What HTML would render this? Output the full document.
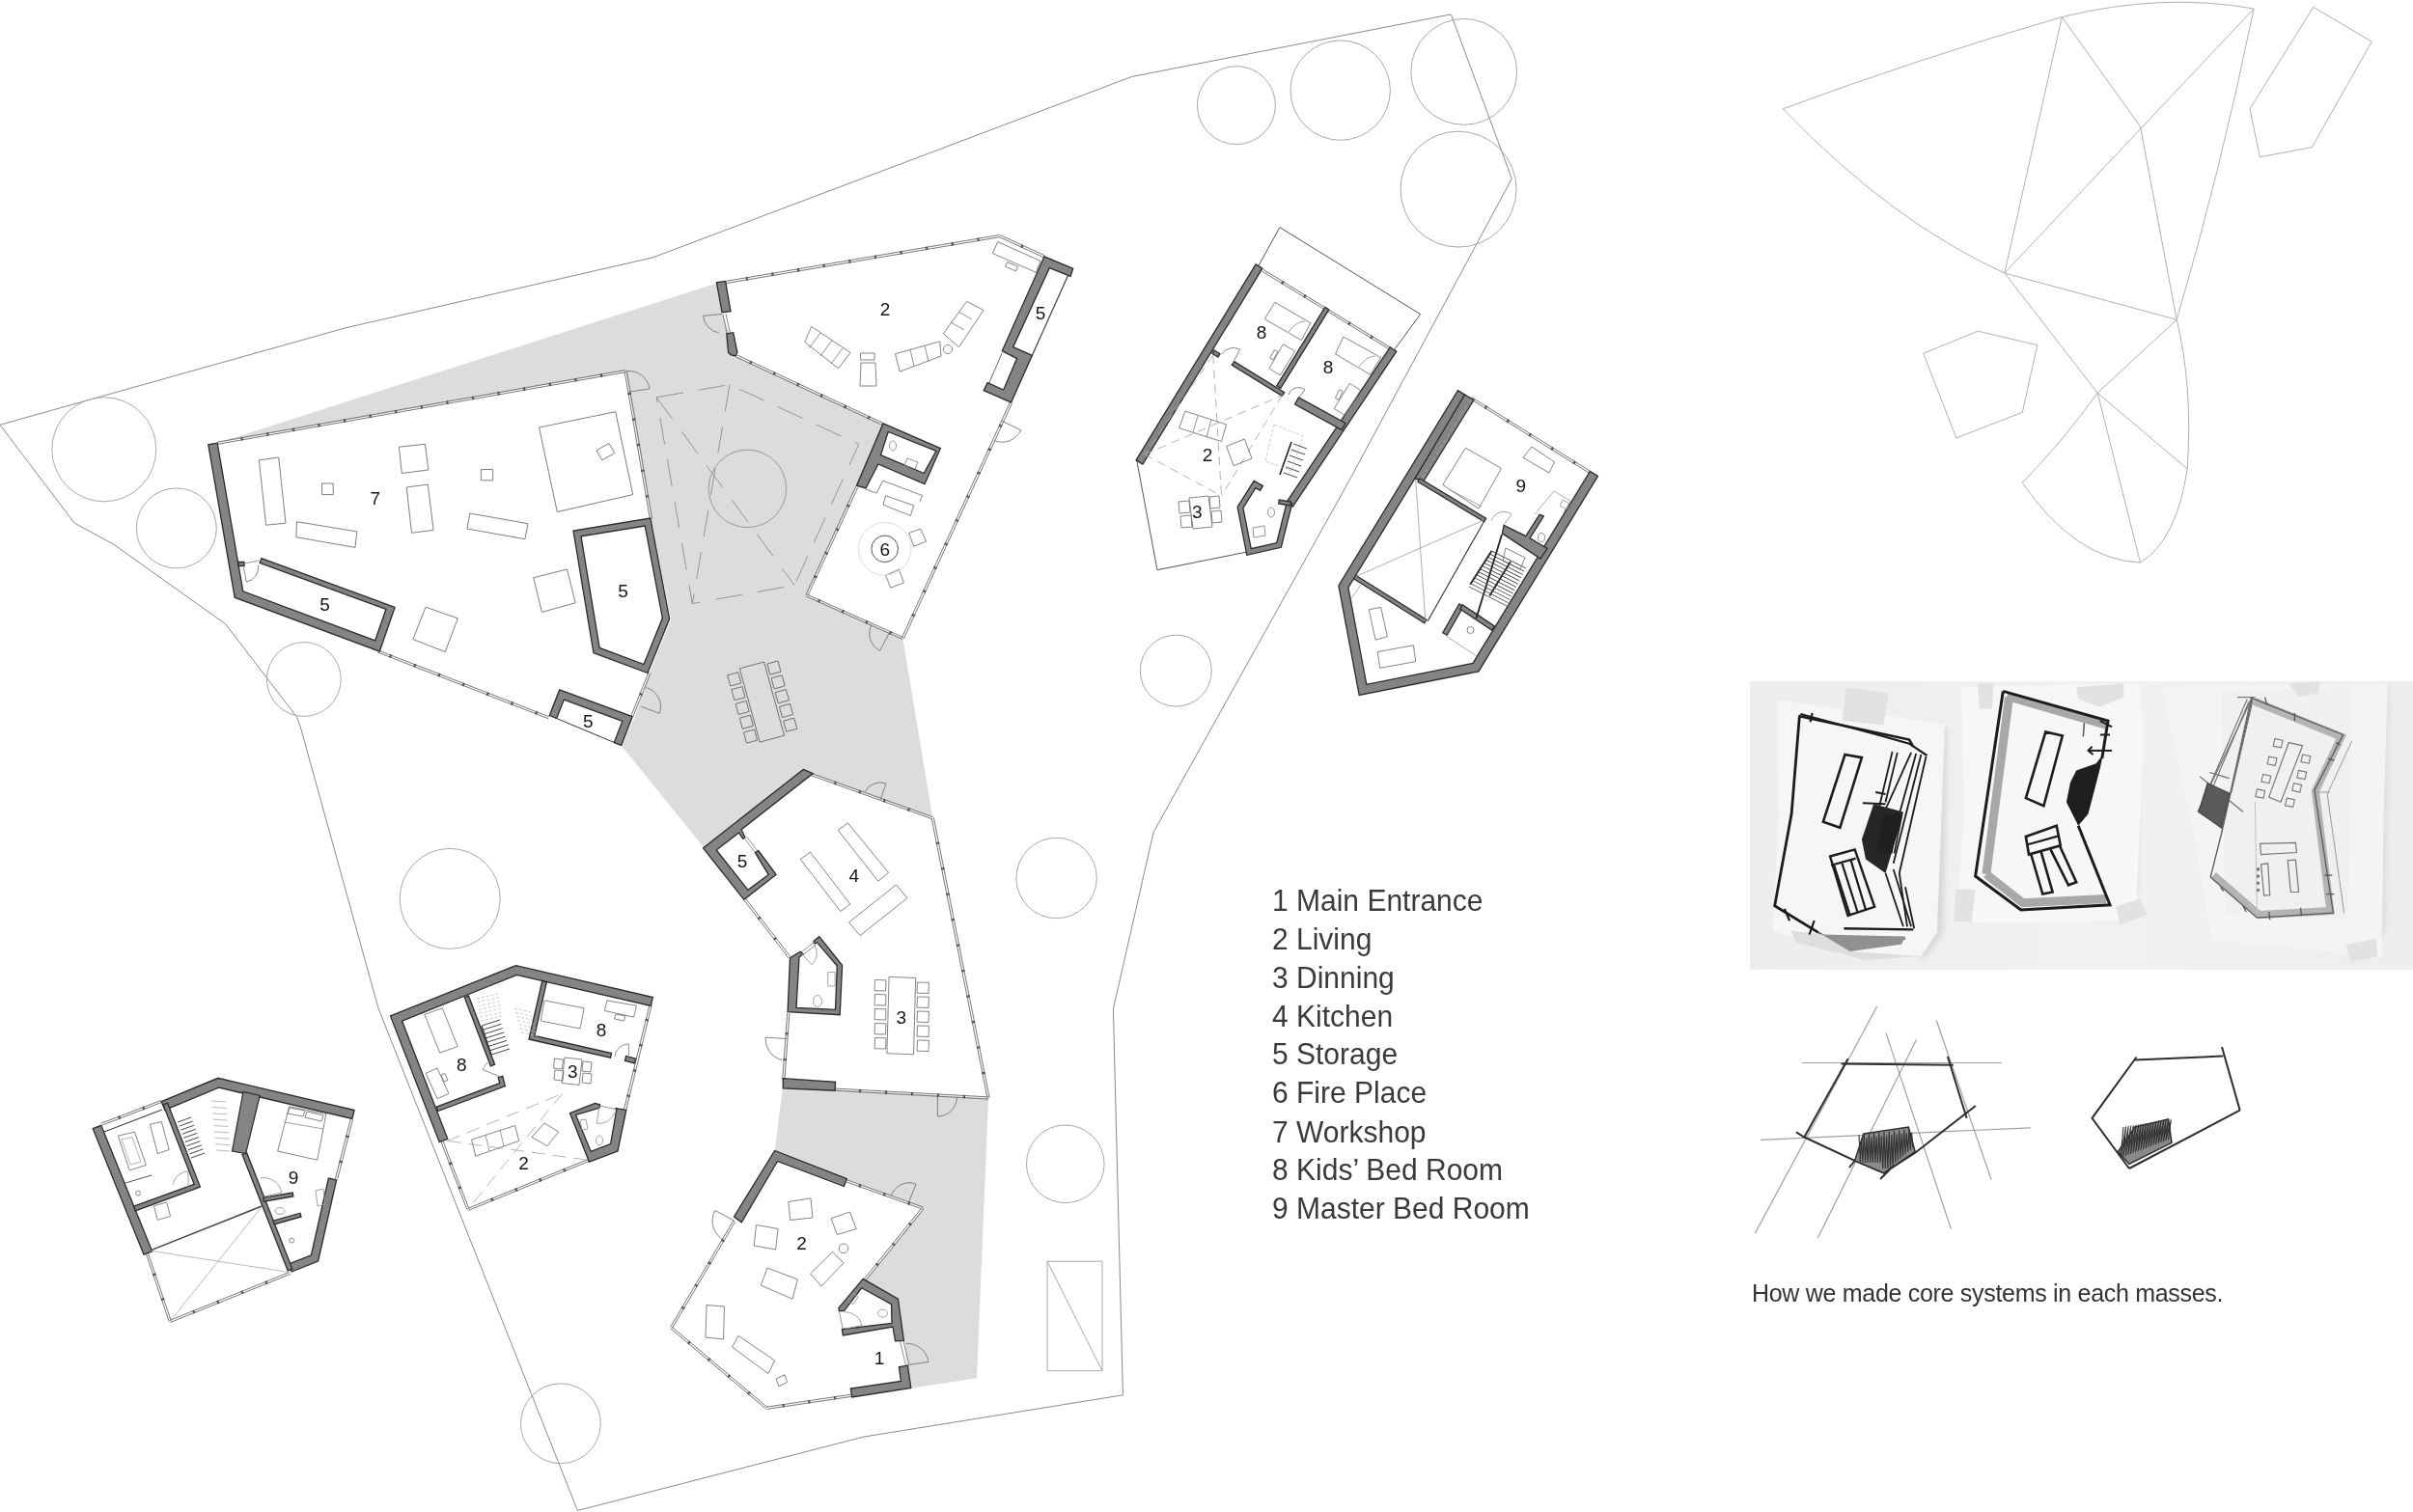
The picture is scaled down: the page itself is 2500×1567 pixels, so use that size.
<!DOCTYPE html>
<html><head><meta charset="utf-8"><style>
html,body{margin:0;padding:0;background:#fff;}
body{width:2500px;height:1567px;overflow:hidden;position:relative;font-family:"Liberation Sans",sans-serif;}
svg{position:absolute;left:0;top:0;}
.lay,.legend,.caption{will-change:transform;}
svg text{font-family:"Liberation Sans",sans-serif;}
.legend{position:absolute;left:1318px;top:912.5px;font-size:30px;line-height:37.29px;color:#3a3a3a;white-space:nowrap;transform:scaleY(1.07);transform-origin:0 0;}
.caption{position:absolute;left:1815px;top:1326px;font-size:25px;letter-spacing:-0.3px;color:#333;white-space:nowrap;}
</style></head><body>
<svg width="2500" height="1567" viewBox="0 0 2500 1567">
<polyline points="0,440.3 358,339.8 676.4,266.9 1172.8,79.4 1503.4,14.9 1566.3,185.2 1396.8,500 1195.1,862.4 1153.4,1045.6 1163.4,1445.8 894.9,1489.1 598.4,1565.5 392,1045 311,752.4 307.4,742.9 233.5,646.6 117.5,564 77,542 0,440.3" fill="none" stroke="#8a8a8a" stroke-width="1" />
<polygon points="225.5,459.2 742.7,293.4 748,324 756,346 763,369 914.8,439.6 887.7,504.9 835.8,617.1 935.3,661.5 966.3,847.8 840.7,802.6 728.9,878 644,773 654,742 673,697 695,642 674.5,537.8 648.2,384.6" fill="#dcdcdc" stroke="none" stroke-width="1" />
<polygon points="811.8,1119.2 1024.1,1138 1012,1428.3 943.4,1438.7 936,1389 930,1346 895.5,1327.1 956.2,1252.1 876.4,1222.4 802.6,1193.8" fill="#dcdcdc" stroke="none" stroke-width="1" />
<circle cx="107.8" cy="465.8" r="54" fill="none" stroke="#a8a8a8" stroke-width="1"/>
<circle cx="182.8" cy="547.4" r="41.5" fill="none" stroke="#a8a8a8" stroke-width="1"/>
<circle cx="314.8" cy="704" r="38.4" fill="none" stroke="#a8a8a8" stroke-width="1"/>
<circle cx="1280.9" cy="109.1" r="40.5" fill="none" stroke="#a8a8a8" stroke-width="1"/>
<circle cx="1388.7" cy="93.6" r="51.7" fill="none" stroke="#a8a8a8" stroke-width="1"/>
<circle cx="1516.7" cy="74.4" r="54.9" fill="none" stroke="#a8a8a8" stroke-width="1"/>
<circle cx="1511" cy="196.1" r="60" fill="none" stroke="#a8a8a8" stroke-width="1"/>
<circle cx="1218.3" cy="695.1" r="37" fill="none" stroke="#a8a8a8" stroke-width="1"/>
<circle cx="1094.6" cy="910" r="41.7" fill="none" stroke="#a8a8a8" stroke-width="1"/>
<circle cx="1103.8" cy="1206.3" r="40.3" fill="none" stroke="#a8a8a8" stroke-width="1"/>
<circle cx="580.9" cy="1475.3" r="41.4" fill="none" stroke="#a8a8a8" stroke-width="1"/>
<circle cx="466.2" cy="931.4" r="52" fill="none" stroke="#a8a8a8" stroke-width="1"/>
<polygon points="1085,1307.2 1142,1307.2 1142,1420.7 1085,1420.7" fill="none" stroke="#a8a8a8" stroke-width="1" />
<polyline points="1085,1307.2 1142,1420.7" fill="none" stroke="#a8a8a8" stroke-width="1" />
<circle cx="774.4" cy="506.4" r="40.2" fill="none" stroke="#999" stroke-width="1"/>
<polygon points="680.2,411.8 756,398.6 889.8,460.4 823.1,606.5 717.3,625.6" fill="none" stroke="#8c8c8c" stroke-width="0.9" stroke-dasharray="28,16"/>
<polyline points="756,398.6 717.3,625.6" fill="none" stroke="#8c8c8c" stroke-width="0.9" stroke-dasharray="28,16" />
<polyline points="680.2,411.8 823.1,606.5" fill="none" stroke="#8c8c8c" stroke-width="0.9" stroke-dasharray="28,16" />
<rect x="-13.1" y="-39.5" width="26.2" height="79.1" transform="translate(789.4,727.5) rotate(-15.3)" fill="none" stroke="#6f6f6f" stroke-width="0.9"/>
<rect x="-5.8" y="-5.8" width="11.5" height="11.5" transform="translate(760.8,703.9) rotate(-15.3)" fill="none" stroke="#6f6f6f" stroke-width="0.9"/>
<rect x="-5.8" y="-5.8" width="11.5" height="11.5" transform="translate(802,692.1) rotate(-15.3)" fill="none" stroke="#6f6f6f" stroke-width="0.9"/>
<rect x="-5.8" y="-5.8" width="11.5" height="11.5" transform="translate(765,718.7) rotate(-15.3)" fill="none" stroke="#6f6f6f" stroke-width="0.9"/>
<rect x="-5.8" y="-5.8" width="11.5" height="11.5" transform="translate(806.2,706.9) rotate(-15.3)" fill="none" stroke="#6f6f6f" stroke-width="0.9"/>
<rect x="-5.8" y="-5.8" width="11.5" height="11.5" transform="translate(769.2,733.5) rotate(-15.3)" fill="none" stroke="#6f6f6f" stroke-width="0.9"/>
<rect x="-5.8" y="-5.8" width="11.5" height="11.5" transform="translate(810.4,721.7) rotate(-15.3)" fill="none" stroke="#6f6f6f" stroke-width="0.9"/>
<rect x="-5.8" y="-5.8" width="11.5" height="11.5" transform="translate(773.4,748.3) rotate(-15.3)" fill="none" stroke="#6f6f6f" stroke-width="0.9"/>
<rect x="-5.8" y="-5.8" width="11.5" height="11.5" transform="translate(814.6,736.5) rotate(-15.3)" fill="none" stroke="#6f6f6f" stroke-width="0.9"/>
<rect x="-5.8" y="-5.8" width="11.5" height="11.5" transform="translate(777.6,763.1) rotate(-15.3)" fill="none" stroke="#6f6f6f" stroke-width="0.9"/>
<rect x="-5.8" y="-5.8" width="11.5" height="11.5" transform="translate(818.8,751.3) rotate(-15.3)" fill="none" stroke="#6f6f6f" stroke-width="0.9"/>
<polygon points="225.5,459.2 648.2,384.6 674.5,537.8 695,642 673,697 658,742 644,773 568.6,743.8 391.6,675 243.7,619" fill="#fff" stroke="none" stroke-width="1" />
<polyline points="225.7,460.3 648.4,385.7" fill="none" stroke="#666" stroke-width="0.9" />
<polyline points="225.3,458.1 648,383.5" fill="none" stroke="#666" stroke-width="0.9" />
<path d="M249.6,454.9 L251.8,454.6 M276.2,450.2 L278.4,449.9 M302.8,445.6 L305,445.2 M329.4,440.9 L331.6,440.5 M356,436.2 L358.2,435.8 M382.6,431.5 L384.8,431.1 M409.2,426.8 L411.3,426.4 M435.8,422.1 L437.9,421.7 M462.4,417.4 L464.5,417 M488.9,412.7 L491.1,412.3 M515.5,408 L517.7,407.6 M542.1,403.3 L544.3,402.9 M568.7,398.6 L570.9,398.2 M595.3,393.9 L597.5,393.6 M621.9,389.2 L624.1,388.9" stroke="#555" stroke-width="3.4" fill="none"/>
<polyline points="647.1,384.8 673.4,538" fill="none" stroke="#666" stroke-width="0.9" />
<polyline points="649.3,384.4 675.6,537.6" fill="none" stroke="#666" stroke-width="0.9" />
<path d="M652,406.9 L652.4,409.1 M656.6,433.5 L657,435.7 M661.2,460.1 L661.5,462.3 M665.7,486.7 L666.1,488.9 M670.3,513.3 L670.7,515.5" stroke="#555" stroke-width="3.4" fill="none"/>
<polyline points="391.2,676 568.2,744.8" fill="none" stroke="#666" stroke-width="0.9" />
<polyline points="392,674 569,742.8" fill="none" stroke="#666" stroke-width="0.9" />
<path d="M403.6,679.7 L405.6,680.5 M428.7,689.4 L430.8,690.2 M453.9,699.2 L456,700 M479.1,709 L481.1,709.8 M504.2,718.8 L506.3,719.6 M529.4,728.6 L531.5,729.4 M554.6,738.3 L556.6,739.1" stroke="#555" stroke-width="3.4" fill="none"/>
<polyline points="672,696.6 654,741.6" fill="none" stroke="#666" stroke-width="0.9" />
<polyline points="674,697.4 656,742.4" fill="none" stroke="#666" stroke-width="0.9" />
<path d="M664.4,718.5 L663.6,720.5" stroke="#555" stroke-width="3.4" fill="none"/>
<path d="M215.8,460.8 L243.2,619.2 L393.3,675.2 L409.1,629.5 L270.9,578.7 L269.1,583.3 L399.9,631.5 L388.7,663.8 L251.8,612.8 L225.2,459.2Z" fill="#848484" stroke="#2b2b2b" stroke-width="1.3" fill-rule="evenodd"/>
<path d="M253,586.5 L253,582.5 L247,582.5 L247,586.5Z" fill="#848484" stroke="#2b2b2b" stroke-width="1.3" stroke-linejoin="miter" fill-rule="evenodd"/>
<path d="M614.9,676.6 L671,697.5 L693.6,641.4 L673.8,537 L594,550.1Z M668.2,545 L686.4,640.6 L667,688.5 L621.1,671.4 L602,555.9Z" fill="#848484" stroke="#2b2b2b" stroke-width="1.3" stroke-linejoin="miter" fill-rule="evenodd"/>
<path d="M584.3,725.1 L644.8,747.4 L636.3,769.6 L643.7,772.4 L655.2,742.6 L579.7,714.9 L569.3,741.5 L576.7,744.5Z" fill="#848484" stroke="#2b2b2b" stroke-width="1.3" stroke-linejoin="miter" fill-rule="evenodd"/>
<polyline points="573,743 640,771" fill="none" stroke="#333" stroke-width="1" />
<polygon points="268.4,476.9 288.7,474 296,542.2 275.6,544.2" fill="none" stroke="#6f6f6f" stroke-width="0.9" />
<polygon points="333.6,501 345.2,501 345.2,512.6 333.6,512.6" fill="none" stroke="#6f6f6f" stroke-width="0.9" />
<polygon points="307.5,540.7 369.9,550.9 367.9,567.4 306.9,556.7" fill="none" stroke="#6f6f6f" stroke-width="0.9" />
<polygon points="413.4,463.2 440.4,460.3 443.9,487 416.3,490.5" fill="none" stroke="#6f6f6f" stroke-width="0.9" />
<polygon points="421.2,505 443.3,502.1 449.1,549.4 426.5,552.3" fill="none" stroke="#6f6f6f" stroke-width="0.9" />
<polygon points="498.4,486.5 510.6,486.5 510.6,497.8 498.4,497.8" fill="none" stroke="#6f6f6f" stroke-width="0.9" />
<polygon points="486.8,532 546.9,542.7 544,558.7 483.9,548" fill="none" stroke="#6f6f6f" stroke-width="0.9" />
<polygon points="558.5,443 637.7,426.7 655.7,512.6 577.3,530.5" fill="none" stroke="#6f6f6f" stroke-width="0.9" />
<polygon points="618,466.7 631,459.5 636.8,469.6 623.7,476.9" fill="none" stroke="#6f6f6f" stroke-width="0.9" />
<polygon points="552.7,598.7 587.5,590 596.2,624.8 561.4,634.4" fill="none" stroke="#6f6f6f" stroke-width="0.9" />
<polygon points="441,629.2 474.3,640.8 461.3,675.6 427.9,662.5" fill="none" stroke="#6f6f6f" stroke-width="0.9" />
<path d="M648.3,384.7 A21.8,21.8 0 0 1 673,402.9 L651.5,406.2" fill="none" stroke="#777" stroke-width="0.9"/>
<path d="M669.2,712.6 A20.2,20.2 0 0 1 683.2,739.4 L664.3,732.2" fill="none" stroke="#777" stroke-width="0.9"/>
<path d="M267.6,586.1 A15.3,15.3 0 0 1 255.3,603 L252.4,588" fill="none" stroke="#777" stroke-width="0.9"/>
<polyline points="253,584 268,581" fill="none" stroke="#777" stroke-width="0.8" />
<polygon points="742.7,293.4 1036.3,244.4 1081.5,266 1111.6,278.2 1047.6,417.2 935.3,661.5 835.8,617.1 887.7,504.9 914.8,439.6 763,369 756,346 748,324" fill="#fff" stroke="none" stroke-width="1" />
<polyline points="751.8,293.7 1035.9,245.7" fill="none" stroke="#666" stroke-width="0.9" />
<polyline points="751.4,291.5 1035.5,243.5" fill="none" stroke="#666" stroke-width="0.9" />
<path d="M772.8,289 L774.9,288.7 M799.4,284.5 L801.6,284.2 M826,280 L828.2,279.7 M852.6,275.5 L854.8,275.2 M879.3,271 L881.4,270.7 M905.9,266.5 L908,266.2 M932.5,262 L934.7,261.7 M959.1,257.5 L961.3,257.2 M985.7,253 L987.9,252.7 M1012.4,248.5 L1014.5,248.2" stroke="#555" stroke-width="3.4" fill="none"/>
<polyline points="1035.2,245.6 1081.5,266.8" fill="none" stroke="#666" stroke-width="0.9" />
<polyline points="1036.2,243.6 1082.5,264.8" fill="none" stroke="#666" stroke-width="0.9" />
<path d="M1057.8,254.7 L1059.9,255.7" stroke="#555" stroke-width="3.4" fill="none"/>
<polyline points="762.7,370 914.3,440.6" fill="none" stroke="#666" stroke-width="0.9" />
<polyline points="763.7,368 915.3,438.6" fill="none" stroke="#666" stroke-width="0.9" />
<path d="M776.8,375.3 L778.8,376.3 M801.3,386.7 L803.3,387.7 M825.8,398.1 L827.8,399.1 M850.2,409.5 L852.2,410.5 M874.7,420.9 L876.7,421.9 M899.2,432.3 L901.2,433.3" stroke="#555" stroke-width="3.4" fill="none"/>
<polyline points="886.7,504.4 834.8,616.6" fill="none" stroke="#666" stroke-width="0.9" />
<polyline points="888.7,505.4 836.8,617.6" fill="none" stroke="#666" stroke-width="0.9" />
<path d="M879.2,523.2 L878.3,525.2 M867.9,547.7 L867,549.7 M856.5,572.3 L855.6,574.3 M845.2,596.8 L844.3,598.8" stroke="#555" stroke-width="3.4" fill="none"/>
<polyline points="835.4,618.1 934.9,662.5" fill="none" stroke="#666" stroke-width="0.9" />
<polyline points="836.2,616.1 935.7,660.5" fill="none" stroke="#666" stroke-width="0.9" />
<path d="M847.6,622.3 L849.6,623.2 M872.2,633.4 L874.2,634.2 M896.9,644.4 L898.9,645.2 M921.5,655.4 L923.5,656.3" stroke="#555" stroke-width="3.4" fill="none"/>
<polyline points="1046.6,416.7 934.3,661" fill="none" stroke="#666" stroke-width="0.9" />
<polyline points="1048.6,417.7 936.3,662" fill="none" stroke="#666" stroke-width="0.9" />
<path d="M1037,440.2 L1036.1,442.2 M1025.7,464.8 L1024.8,466.8 M1014.5,489.3 L1013.5,491.3 M1003.2,513.8 L1002.3,515.8 M991.9,538.4 L991,540.3 M980.6,562.9 L979.7,564.9 M969.4,587.4 L968.4,589.4 M958.1,611.9 L957.2,613.9 M946.8,636.5 L945.9,638.5" stroke="#555" stroke-width="3.4" fill="none"/>
<polyline points="1106.5,285.6 1069.4,368.3" fill="none" stroke="#333" stroke-width="1.1" />
<polyline points="1038.3,365.6 1024.5,397.4" fill="none" stroke="#555" stroke-width="0.9" />
<path d="M742.4,292.6 L751.6,291.4 L757,322.7 L748.1,323.8Z" fill="#848484" stroke="#2b2b2b" stroke-width="1.3" fill-rule="evenodd"/>
<path d="M752.8,345.8 L759.7,344.7 L763.9,365.5 L762,369 L757.4,367.8 L754.6,365.5Z" fill="#848484" stroke="#2b2b2b" stroke-width="1.3" fill-rule="evenodd"/>
<path d="M1082,265.8 L1111.7,278.3 L1109.1,286.3 L1087.3,277.7 L1049.6,359.7 L1069.4,368.3 L1047.6,417.2 L1019.2,404.6 L1023.1,396.7 L1039.7,404 L1053.6,371.6 L1038.3,363.6Z" fill="#848484" stroke="#2b2b2b" stroke-width="1.3" fill-rule="evenodd"/>
<path d="M915,438.9 L974.4,464.7 L958,501.7 L909.9,481 L897,506 L887.5,503.4Z M920.2,447.5 L970,467.3 L957.2,490.5 L912.5,471.6Z" fill="#848484" stroke="#2b2b2b" stroke-width="1.3" fill-rule="evenodd"/>
<polyline points="749,326 753,345" fill="none" stroke="#666" stroke-width="0.8" />
<polyline points="752,325.5 756.5,345" fill="none" stroke="#666" stroke-width="0.8" />
<path d="M744.7,344.9 A19.7,19.7 0 0 1 728.5,327.3 L748.1,325.5" fill="none" stroke="#777" stroke-width="0.9"/>
<path d="M1030,456.7 A22,22 0 0 0 1057.8,445.8 L1038,436.3" fill="none" stroke="#777" stroke-width="0.9"/>
<path d="M902.9,647.4 A20.3,20.3 0 0 0 911.6,674.5 L921,656.5" fill="none" stroke="#777" stroke-width="0.9"/>
<polygon points="1033.7,250.6 1078,270.4 1073.4,282.3 1028.4,262.5" fill="none" stroke="#777" stroke-width="0.9" />
<polygon points="1043.6,271.5 1054.5,276.3 1052.5,281 1041.6,276.2" fill="none" stroke="#777" stroke-width="0.9" />
<polygon points="840.7,338.4 881.2,365.5 868.5,381.7 833.8,354.6" fill="none" stroke="#777" stroke-width="0.9" />
<polyline points="850,345 838,361" fill="none" stroke="#777" stroke-width="0.8" />
<polyline points="862,353 850,369" fill="none" stroke="#777" stroke-width="0.8" />
<polyline points="873,361 861,377" fill="none" stroke="#777" stroke-width="0.8" />
<polygon points="891.5,366 906,366 906,373 891.5,373" fill="none" stroke="#777" stroke-width="0.9" />
<polygon points="892,376 907,376 908,400 891,400" fill="none" stroke="#777" stroke-width="0.9" />
<polygon points="927.5,366.7 973.8,353.9 975,369 932.2,385.2" fill="none" stroke="#777" stroke-width="0.9" />
<polyline points="943,362 947,380" fill="none" stroke="#777" stroke-width="0.8" />
<polyline points="958,358 962,375" fill="none" stroke="#777" stroke-width="0.8" />
<polygon points="977.3,345.8 1001.6,312.3 1019,321.5 993.5,359.7" fill="none" stroke="#777" stroke-width="0.9" />
<polyline points="985,334 999,342" fill="none" stroke="#777" stroke-width="0.8" />
<polyline points="993,323 1007,331" fill="none" stroke="#777" stroke-width="0.8" />
<circle cx="982" cy="362" r="4.5" fill="none" stroke="#888" stroke-width="1"/>
<polyline points="897,507 908.2,511.1 914.7,498.2 955.5,513.5 952.9,520" fill="none" stroke="#777" stroke-width="0.9" />
<polygon points="917.6,513.7 946.8,524 943.4,534.4 915,523.2" fill="none" stroke="#777" stroke-width="0.9" />
<polygon points="941.7,552.4 953.7,548.1 959.7,561 946.8,566.2" fill="none" stroke="#777" stroke-width="0.9" />
<polygon points="917.6,596.3 931.4,590.2 936.5,604 922.8,609.2" fill="none" stroke="#777" stroke-width="0.9" />
<ellipse cx="925" cy="462" rx="3.5" ry="5" fill="none" stroke="#888" stroke-width="0.9"/>
<polygon points="940,475 951,479 948,486 937,482" fill="none" stroke="#888" stroke-width="0.9" />
<circle cx="916.7" cy="568.8" r="27.3" fill="none" stroke="#ddd" stroke-width="1"/>
<circle cx="916.7" cy="568.8" r="13.8" fill="none" stroke="#555" stroke-width="1"/>
<polygon points="1303.3,276.5 1325.9,235.6 1471.6,325.6 1444,363.3" fill="none" stroke="#555" stroke-width="1" />
<polygon points="1305,276.5 1442.7,362 1391.2,441.2 1323.4,564.3 1293.2,570.6 1199,590.7 1177.6,476.3" fill="#fff" stroke="none" stroke-width="1" />
<polyline points="1307.7,281.2 1440.9,362.9" fill="none" stroke="#666" stroke-width="0.9" />
<polyline points="1308.9,279.4 1442.1,361.1" fill="none" stroke="#666" stroke-width="0.9" />
<path d="M1327.9,292.3 L1329.8,293.5 M1350.9,306.5 L1352.8,307.6 M1374,320.6 L1375.8,321.7 M1397,334.7 L1398.9,335.8 M1420,348.8 L1421.9,350" stroke="#555" stroke-width="3.4" fill="none"/>
<polyline points="1293.2,571.8 1199,590.7 1177.6,476.3" fill="none" stroke="#555" stroke-width="1" />
<path d="M1177.1,476.9 L1183.9,481.1 L1307.9,278.1 L1301.1,273.9Z" fill="#848484" stroke="#2b2b2b" stroke-width="1.3" stroke-linejoin="miter" fill-rule="evenodd"/>
<path d="M1332.7,520.8 L1339.3,525.2 L1446.8,364.2 L1440.2,359.8Z" fill="#848484" stroke="#2b2b2b" stroke-width="1.3" stroke-linejoin="miter" fill-rule="evenodd"/>
<path d="M1322.7,562.7 L1296.2,568.7 L1287.9,526.5 L1300.9,505.7 L1305.6,508.4 L1308.4,503.6 L1299.1,498.3 L1282.1,525.5 L1291.8,575.3 L1327.3,567.3 L1338.7,521.7 L1333.3,520.3Z" fill="#848484" stroke="#2b2b2b" stroke-width="1.3" stroke-linejoin="miter" fill-rule="evenodd"/>
<path d="M1336.7,524 L1337.3,520 L1325.3,518 L1324.7,522Z" fill="#848484" stroke="#2b2b2b" stroke-width="1.3" stroke-linejoin="miter" fill-rule="evenodd"/>
<path d="M1322.8,399.8 L1326.8,402.4 L1376.8,320.9 L1372.8,318.3Z" fill="#848484" stroke="#2b2b2b" stroke-width="1.3" stroke-linejoin="miter" fill-rule="evenodd"/>
<path d="M1328.3,410.4 L1330.7,406.6 L1278.7,374.6 L1276.3,378.4Z" fill="#848484" stroke="#2b2b2b" stroke-width="1.3" stroke-linejoin="miter" fill-rule="evenodd"/>
<path d="M1390.1,445.5 L1393.9,438.5 L1345.4,412 L1341.6,419Z" fill="#848484" stroke="#2b2b2b" stroke-width="1.3" stroke-linejoin="miter" fill-rule="evenodd"/>
<path d="M1262,370 L1264,366.6 L1257.8,362.8 L1255.8,366.2Z" fill="#848484" stroke="#2b2b2b" stroke-width="1.3" stroke-linejoin="miter" fill-rule="evenodd"/>
<polyline points="1256.8,368.3 1265.5,514" fill="none" stroke="#aaa" stroke-width="0.9" stroke-dasharray="9,6" />
<polyline points="1186,471 1328.4,409.7" fill="none" stroke="#aaa" stroke-width="0.9" stroke-dasharray="9,6" />
<polyline points="1186,471 1265.5,514" fill="none" stroke="#aaa" stroke-width="0.9" stroke-dasharray="9,6" />
<polyline points="1256.8,368.3 1186,471" fill="none" stroke="#aaa" stroke-width="0.9" stroke-dasharray="9,6" />
<polyline points="1328.4,409.7 1265.5,514" fill="none" stroke="#aaa" stroke-width="0.9" stroke-dasharray="9,6" />
<polygon points="1321,313.3 1357.9,334.8 1348.3,352.6 1310.2,330.6" fill="none" stroke="#777" stroke-width="0.9" />
<polygon points="1329.3,356.8 1341.8,363.9 1326.3,388.9 1315,381.8" fill="none" stroke="#777" stroke-width="0.9" />
<polygon points="1320.4,362.7 1324,364.5 1319.2,372.9 1315.6,371.1" fill="none" stroke="#777" stroke-width="0.9" />
<polygon points="1391.8,349 1430.5,370.5 1419.8,388.3 1383.5,366.9" fill="none" stroke="#777" stroke-width="0.9" />
<polygon points="1398.3,397.3 1409.6,404.4 1393.6,430.6 1382.3,423.5" fill="none" stroke="#777" stroke-width="0.9" />
<polygon points="1387.6,403.8 1391.2,405.6 1387,414.5 1383.4,412.7" fill="none" stroke="#777" stroke-width="0.9" />
<path d="M1335,344 Q1343,333 1352,333" fill="none" stroke="#888" stroke-width="0.8" />
<path d="M1408,380 Q1416,369 1425,369" fill="none" stroke="#888" stroke-width="0.8" />
<path d="M1266,366.9 A14.5,14.5 0 0 1 1284.6,362.1 L1278,375" fill="none" stroke="#777" stroke-width="0.9"/>
<path d="M1335,409 A11,11 0 0 1 1351.9,403.8 L1345.4,412.7" fill="none" stroke="#777" stroke-width="0.9"/>
<polygon points="1227.9,426.1 1270.6,439.9 1265.5,457.5 1221.6,443.7" fill="none" stroke="#777" stroke-width="0.9" />
<polyline points="1241,431 1236,448" fill="none" stroke="#777" stroke-width="0.8" />
<polyline points="1255,435 1250,453" fill="none" stroke="#777" stroke-width="0.8" />
<polygon points="1270.6,462.5 1289.4,455 1297,475.1 1278.1,482.6" fill="none" stroke="#777" stroke-width="0.9" />
<polygon points="1232,516 1252,514 1256,546 1236,548" fill="none" stroke="#777" stroke-width="0.9" />
<polygon points="1221,520 1232,519 1233,531 1222,532" fill="none" stroke="#777" stroke-width="0.9" />
<polygon points="1223,535 1234,534 1235,546 1224,547" fill="none" stroke="#777" stroke-width="0.9" />
<polygon points="1253,515 1263,514 1264,526 1254,527" fill="none" stroke="#777" stroke-width="0.9" />
<polygon points="1255,530 1265,529 1266,541 1256,542" fill="none" stroke="#777" stroke-width="0.9" />
<polyline points="1340,460 1354,465" fill="none" stroke="#333" stroke-width="0.9" />
<polyline points="1338,466 1352,471" fill="none" stroke="#333" stroke-width="0.9" />
<polyline points="1336,472 1350,477" fill="none" stroke="#333" stroke-width="0.9" />
<polyline points="1334,478 1348,483" fill="none" stroke="#333" stroke-width="0.9" />
<polyline points="1332,484 1346,489" fill="none" stroke="#333" stroke-width="0.9" />
<polyline points="1330,490 1344,495" fill="none" stroke="#333" stroke-width="0.9" />
<polyline points="1338,458 1326,492" fill="none" stroke="#222" stroke-width="1.6" />
<polygon points="1320,440 1350,452 1338,488 1311,478" fill="none" stroke="#bbb" stroke-width="0.8" stroke-dasharray="3,2"/>
<ellipse cx="1317" cy="531" rx="3.5" ry="5" fill="none" stroke="#888" stroke-width="0.9"/>
<polygon points="1298,547 1310,545 1311,555 1299,557" fill="none" stroke="#888" stroke-width="0.9" />
<polygon points="1510.5,404.6 1655.5,493.4 1531.9,695.8 1408.2,720.5 1386.9,607" fill="#fff" stroke="none" stroke-width="1" />
<polyline points="1523.4,413.4 1645.9,489.8" fill="none" stroke="#666" stroke-width="0.9" />
<polyline points="1524.6,411.6 1647.1,488" fill="none" stroke="#666" stroke-width="0.9" />
<path d="M1538.5,421.5 L1540.4,422.7 M1561.4,435.8 L1563.3,437 M1584.3,450.1 L1586.2,451.3 M1607.2,464.4 L1609.1,465.6 M1630.1,478.7 L1632,479.9" stroke="#555" stroke-width="3.4" fill="none"/>
<path d="M1518.6,409.6 L1510.5,404.6 L1386.9,607 L1408.2,720.5 L1531.9,695.8 L1655.5,493.4 L1647.4,488.4 L1526,687.3 L1415.8,709.3 L1396.9,608.8Z" fill="#848484" stroke="#2b2b2b" stroke-width="1.3" fill-rule="evenodd"/>
<path d="M1517.5,409 L1527,414.5 L1475,498.5 L1466,496Z" fill="#848484" stroke="#2b2b2b" stroke-width="1.3" fill-rule="evenodd"/>
<polyline points="1523.5,414 1472,497.5" fill="none" stroke="#aaa" stroke-width="0.8" stroke-dasharray="4,3" />
<path d="M1537.6,540.7 L1539.6,537.3 L1471,495.8 L1469,499.2Z" fill="#848484" stroke="#2b2b2b" stroke-width="1.3" stroke-linejoin="miter" fill-rule="evenodd"/>
<path d="M1475.7,645.7 L1477.9,642.3 L1404.8,596.3 L1402.6,599.7Z" fill="#848484" stroke="#2b2b2b" stroke-width="1.3" stroke-linejoin="miter" fill-rule="evenodd"/>
<path d="M1558.1,544.4 L1580.8,555.6 L1595.1,533.3 L1599.4,534.9 L1585.1,557.7 L1603,568.5 L1596,579 L1556.5,552.9Z" fill="#848484" stroke="#2b2b2b" stroke-width="1.3" fill-rule="evenodd"/>
<path d="M1494.8,655.8 L1499.2,658.2 L1516.2,628.2 L1511.8,625.8Z" fill="#848484" stroke="#2b2b2b" stroke-width="1.3" stroke-linejoin="miter" fill-rule="evenodd"/>
<path d="M1545.6,653.1 L1548.4,648.9 L1515.4,626.9 L1512.6,631.1Z" fill="#848484" stroke="#2b2b2b" stroke-width="1.3" stroke-linejoin="miter" fill-rule="evenodd"/>
<polyline points="1466.7,496.8 1476.8,644" fill="none" stroke="#999" stroke-width="0.8" />
<polyline points="1403.7,598 1538.6,538.4" fill="none" stroke="#999" stroke-width="0.8" />
<polyline points="1538.6,538.4 1479,644" fill="none" stroke="#333" stroke-width="1.1" />
<polyline points="1400,620 1410,606" fill="none" stroke="#999" stroke-width="0.8" />
<polyline points="1498,659 1530,680" fill="none" stroke="#999" stroke-width="0.8" />
<polyline points="1556,554 1529.5,640.7" fill="none" stroke="#222" stroke-width="1.8" />
<polyline points="1565,582 1543.3,617.5" fill="none" stroke="#222" stroke-width="1.8" />
<polyline points="1523.2,605.8 1545.4,570.9" fill="none" stroke="#222" stroke-width="1.8" />
<polyline points="1545.4,571 1581,589" fill="none" stroke="#333" stroke-width="0.9" />
<polyline points="1543.5,574.1 1579.3,592.2" fill="none" stroke="#333" stroke-width="0.9" />
<polyline points="1541.5,577.2 1577.7,595.5" fill="none" stroke="#333" stroke-width="0.9" />
<polyline points="1539.6,580.2 1576,598.8" fill="none" stroke="#333" stroke-width="0.9" />
<polyline points="1537.6,583.3 1574.3,602" fill="none" stroke="#333" stroke-width="0.9" />
<polyline points="1535.7,586.4 1572.7,605.2" fill="none" stroke="#333" stroke-width="0.9" />
<polyline points="1533.7,589.5 1571,608.5" fill="none" stroke="#333" stroke-width="0.9" />
<polyline points="1531.8,592.6 1569.3,611.8" fill="none" stroke="#333" stroke-width="0.9" />
<polyline points="1529.8,595.7 1567.7,615" fill="none" stroke="#333" stroke-width="0.9" />
<polyline points="1527.8,598.8 1566,618.2" fill="none" stroke="#555" stroke-width="0.9" />
<polyline points="1525.9,601.8 1564.3,621.5" fill="none" stroke="#555" stroke-width="0.9" />
<polyline points="1524,604.9 1562.7,624.8" fill="none" stroke="#555" stroke-width="0.9" />
<polyline points="1522,608 1561,628" fill="none" stroke="#555" stroke-width="0.9" />
<polygon points="1560,568 1580,578 1575,590 1557,581" fill="none" stroke="#666" stroke-width="0.8" />
<path d="M1545.1,539.7 A13.6,13.6 0 0 1 1566,533 L1558,544" fill="none" stroke="#999" stroke-width="0.9"/>
<polyline points="1610,509 1627,519 1620,531" fill="none" stroke="#999" stroke-width="0.8" />
<polyline points="1590,533 1610,509" fill="none" stroke="#999" stroke-width="0.8" />
<polygon points="1494.8,502.4 1518.4,464.2 1555.5,485.5 1531.9,527.1" fill="none" stroke="#777" stroke-width="0.9" />
<polyline points="1501,507 1535,525" fill="none" stroke="#888" stroke-width="0.8" />
<polygon points="1578,474.3 1586.9,463.1 1610.6,478.8 1605,490" fill="none" stroke="#777" stroke-width="0.9" />
<polygon points="1619,518 1626,522 1623,528 1616,524" fill="none" stroke="#999" stroke-width="0.9" />
<polygon points="1427.3,675.5 1464.4,668.8 1466.7,685.6 1429.6,692.4" fill="none" stroke="#777" stroke-width="0.9" />
<polygon points="1418.3,631.7 1430.7,629.4 1437.4,659.8 1425.1,663.2" fill="none" stroke="#777" stroke-width="0.9" />
<circle cx="1523.5" cy="653" r="3.5" fill="none" stroke="#888" stroke-width="1"/>
<ellipse cx="1597" cy="557" rx="3.5" ry="4.5" fill="none" stroke="#888" stroke-width="0.9"/>
<polygon points="728.9,878 833.2,798.1 840.7,802.6 966.3,847.8 1024.1,1138 865.8,1129.2 811.8,1119.2 816.8,1050.1 818.1,992.3 771.6,932" fill="#fff" stroke="none" stroke-width="1" />
<polyline points="840.3,803.6 965.9,848.8" fill="none" stroke="#666" stroke-width="0.9" />
<polyline points="841.1,801.6 966.7,846.8" fill="none" stroke="#666" stroke-width="0.9" />
<path d="M864.4,811.1 L866.4,811.9 M889.8,820.3 L891.8,821 M915.2,829.4 L917.2,830.1 M940.6,838.5 L942.6,839.3" stroke="#555" stroke-width="3.4" fill="none"/>
<polyline points="965.2,848 1023,1138.2" fill="none" stroke="#666" stroke-width="0.9" />
<polyline points="967.4,847.6 1025.2,1137.8" fill="none" stroke="#666" stroke-width="0.9" />
<path d="M971.3,872.7 L971.7,874.8 M976.5,899.1 L977,901.3 M981.8,925.6 L982.2,927.8 M987.1,952.1 L987.5,954.3 M992.3,978.6 L992.8,980.7 M997.6,1005.1 L998.1,1007.2 M1002.9,1031.5 L1003.3,1033.7 M1008.2,1058 L1008.6,1060.2 M1013.4,1084.5 L1013.9,1086.7 M1018.7,1111 L1019.1,1113.1" stroke="#555" stroke-width="3.4" fill="none"/>
<polyline points="865.7,1130.3 1024,1139.1" fill="none" stroke="#666" stroke-width="0.9" />
<polyline points="865.9,1128.1 1024.2,1136.9" fill="none" stroke="#666" stroke-width="0.9" />
<path d="M889.9,1130.5 L892.1,1130.7 M916.9,1132 L919.1,1132.2 M943.9,1133.5 L946,1133.7 M970.8,1135 L973,1135.2 M997.8,1136.5 L1000,1136.7" stroke="#555" stroke-width="3.4" fill="none"/>
<polyline points="770.7,932.7 817.2,993" fill="none" stroke="#666" stroke-width="0.9" />
<polyline points="772.5,931.3 819,991.6" fill="none" stroke="#666" stroke-width="0.9" />
<path d="M785.9,950.6 L787.3,952.3 M802.4,972 L803.8,973.7" stroke="#555" stroke-width="3.4" fill="none"/>
<polyline points="815.7,1050 810.7,1119.1" fill="none" stroke="#666" stroke-width="0.9" />
<polyline points="817.9,1050.2 812.9,1119.3" fill="none" stroke="#666" stroke-width="0.9" />
<path d="M815.4,1070.1 L815.2,1072.3 M813.4,1097 L813.2,1099.2" stroke="#555" stroke-width="3.4" fill="none"/>
<path d="M832.2,797.4 L842.2,801.6 L768.1,859.8 L771.9,867.8 L769.7,869.4 L765.5,863 L742.2,881 L775,922.3 L796.2,906.4 L782.4,883.7 L785.6,881.5 L804.1,906.4 L770.8,932.3 L728.5,878.9Z" fill="#848484" stroke="#2b2b2b" stroke-width="1.3" fill-rule="evenodd"/>
<polyline points="771,868.5 782,883" fill="none" stroke="#777" stroke-width="0.8" />
<polyline points="773.5,867 784.5,881.5" fill="none" stroke="#777" stroke-width="0.8" />
<path d="M818.5,992.7 L829.2,986.2 L832.1,988.6 L828,992.1 L825,1044.5 L865.5,1046.3 L867.3,1001.1 L846.4,976.7 L844,977.9 L842.9,975.5 L848.8,970.7 L872.6,1000.5 L870.2,1051.7 L816.1,1048.7Z" fill="#848484" stroke="#2b2b2b" stroke-width="1.3" fill-rule="evenodd"/>
<path d="M811.3,1117.7 L865.5,1121.3 L865.2,1130.2 L811.3,1127.9Z" fill="#848484" stroke="#2b2b2b" stroke-width="1.3" fill-rule="evenodd"/>
<polyline points="830,987 844,976" fill="none" stroke="#777" stroke-width="0.8" />
<polyline points="832,989.5 845.5,979" fill="none" stroke="#777" stroke-width="0.8" />
<path d="M843.6,979 A16,16 0 0 1 841.1,999.9 L830.4,988" fill="none" stroke="#999" stroke-width="0.9"/>
<path d="M810.1,1098.5 A22.6,22.6 0 0 1 793,1075.2 L815.6,1076.5" fill="none" stroke="#777" stroke-width="0.9"/>
<ellipse cx="847" cy="1037.5" rx="4.5" ry="6" fill="none" stroke="#999" stroke-width="0.9"/>
<polygon points="857.7,1007.6 865,1007.6 865,1022 857.7,1022" fill="none" stroke="#999" stroke-width="0.9" />
<polygon points="829.4,890.6 839.4,883 880.9,937 870.9,944.6" fill="none" stroke="#777" stroke-width="0.9" />
<polygon points="868.3,860.4 878.4,852.9 920.6,904.4 909.8,913.2" fill="none" stroke="#777" stroke-width="0.9" />
<polygon points="879.6,955.9 928.6,916.9 939.9,930.8 891,969.7" fill="none" stroke="#777" stroke-width="0.9" />
<polygon points="921.1,1012.4 948.7,1013.5 946.5,1092.8 918.9,1091.7" fill="none" stroke="#777" stroke-width="0.9" />
<polygon points="906.5,1015.5 918,1015.8 917.5,1027 906,1026.7" fill="none" stroke="#777" stroke-width="0.9" />
<polygon points="950.5,1018 962.5,1018.3 962,1029.5 950,1029.2" fill="none" stroke="#777" stroke-width="0.9" />
<polygon points="906.5,1030.5 918,1030.8 917.5,1042 906,1041.7" fill="none" stroke="#777" stroke-width="0.9" />
<polygon points="950.5,1033 962.5,1033.3 962,1044.5 950,1044.2" fill="none" stroke="#777" stroke-width="0.9" />
<polygon points="906.5,1045.5 918,1045.8 917.5,1057 906,1056.7" fill="none" stroke="#777" stroke-width="0.9" />
<polygon points="950.5,1048 962.5,1048.3 962,1059.5 950,1059.2" fill="none" stroke="#777" stroke-width="0.9" />
<polygon points="906.5,1060.5 918,1060.8 917.5,1072 906,1071.7" fill="none" stroke="#777" stroke-width="0.9" />
<polygon points="950.5,1063 962.5,1063.3 962,1074.5 950,1074.2" fill="none" stroke="#777" stroke-width="0.9" />
<polygon points="906.5,1075.5 918,1075.8 917.5,1087 906,1086.7" fill="none" stroke="#777" stroke-width="0.9" />
<polygon points="950.5,1078 962.5,1078.3 962,1089.5 950,1089.2" fill="none" stroke="#777" stroke-width="0.9" />
<path d="M896,820.6 A18,18 0 0 1 918,812 L912,829" fill="none" stroke="#777" stroke-width="0.9"/>
<path d="M991.4,1137 A20,20 0 0 1 971.4,1157 L971.4,1137" fill="none" stroke="#777" stroke-width="0.9"/>
<polygon points="761,1265.2 802.6,1193.8 876.4,1222.4 956.2,1252.1 895.5,1327.1 930,1346.2 936,1389 938.3,1415.2 943.1,1437.9 882.4,1446.2 794.3,1459.3 695.5,1376" fill="#fff" stroke="none" stroke-width="1" />
<polyline points="876,1224.6 955.8,1253.1" fill="none" stroke="#666" stroke-width="0.9" />
<polyline points="876.8,1222.6 956.6,1251.1" fill="none" stroke="#666" stroke-width="0.9" />
<path d="M889.8,1228.4 L891.9,1229.1 M915.3,1237.5 L917.3,1238.2 M940.7,1246.6 L942.8,1247.3" stroke="#555" stroke-width="3.4" fill="none"/>
<polyline points="955.3,1251.4 894.6,1326.4" fill="none" stroke="#666" stroke-width="0.9" />
<polyline points="957.1,1252.8 896.4,1327.8" fill="none" stroke="#666" stroke-width="0.9" />
<path d="M943.5,1267.8 L942.1,1269.5 M926.5,1288.7 L925.2,1290.5 M909.6,1309.7 L908.2,1311.4" stroke="#555" stroke-width="3.4" fill="none"/>
<polyline points="882.2,1445.1 794.1,1458.2" fill="none" stroke="#666" stroke-width="0.9" />
<polyline points="882.6,1447.3 794.5,1460.4" fill="none" stroke="#666" stroke-width="0.9" />
<path d="M866.1,1448.6 L864,1448.9 M839.4,1452.6 L837.3,1452.9 M812.7,1456.6 L810.6,1456.9" stroke="#555" stroke-width="3.4" fill="none"/>
<polyline points="795,1458.5 696.2,1375.2" fill="none" stroke="#666" stroke-width="0.9" />
<polyline points="793.6,1460.1 694.8,1376.8" fill="none" stroke="#666" stroke-width="0.9" />
<path d="M776.7,1444.5 L775,1443 M756.1,1427.1 L754.4,1425.6 M735.4,1409.7 L733.7,1408.2 M714.8,1392.3 L713.1,1390.8" stroke="#555" stroke-width="3.4" fill="none"/>
<polyline points="696.4,1376.6 761.9,1265.8" fill="none" stroke="#666" stroke-width="0.9" />
<polyline points="694.6,1375.4 760.1,1264.6" fill="none" stroke="#666" stroke-width="0.9" />
<path d="M707.1,1356.4 L708.2,1354.5 M720.8,1333.2 L721.9,1331.3 M734.6,1309.9 L735.7,1308 M748.3,1286.7 L749.4,1284.8" stroke="#555" stroke-width="3.4" fill="none"/>
<path d="M760.5,1261 L802.6,1192.5 L877.3,1221.6 L874.4,1229.5 L805.5,1203.5 L768.3,1266.7Z" fill="#848484" stroke="#2b2b2b" stroke-width="1.3" fill-rule="evenodd"/>
<path d="M894.2,1325.4 L930.4,1346.2 L936.4,1389.4 L927.5,1389.9 L925,1375 L873.4,1383.9 L872.4,1377.5 L924,1371.5 L923.5,1351.7 L892.7,1334.8 L874.4,1358.6 L869.4,1358.6 L868.9,1355.6Z" fill="#848484" stroke="#2b2b2b" stroke-width="1.3" fill-rule="evenodd"/>
<path d="M931.4,1416.6 L940.4,1415.2 L943.8,1438.5 L882.8,1447.9 L881.3,1439 L933.4,1431.5Z" fill="#848484" stroke="#2b2b2b" stroke-width="1.3" fill-rule="evenodd"/>
<polyline points="932.5,1390 938.5,1415" fill="none" stroke="#777" stroke-width="0.8" />
<polyline points="936,1389.5 942,1414.5" fill="none" stroke="#777" stroke-width="0.8" />
<path d="M938.7,1392.4 A22.3,22.3 0 0 1 962,1411.5 L939.9,1414.7" fill="none" stroke="#777" stroke-width="0.9"/>
<path d="M875,1359.7 A17.4,17.4 0 0 1 893,1373.5 L876,1377" fill="none" stroke="#999" stroke-width="0.9"/>
<polyline points="869.5,1359 873,1377" fill="none" stroke="#777" stroke-width="0.8" />
<ellipse cx="914.6" cy="1361.1" rx="5" ry="4" fill="none" stroke="#999" stroke-width="0.9"/>
<polygon points="883.5,1340 889,1344 884,1352 878.5,1348" fill="none" stroke="#999" stroke-width="0.9" />
<path d="M923.5,1239.2 A19.3,19.3 0 0 1 949,1227.1 L941.9,1245" fill="none" stroke="#777" stroke-width="0.9"/>
<path d="M750.2,1285.4 A22.9,22.9 0 0 1 740.7,1254.5 L761,1265.2" fill="none" stroke="#777" stroke-width="0.9"/>
<polygon points="816.9,1245.5 840,1241.8 841.9,1262 818.8,1264.5" fill="none" stroke="#777" stroke-width="0.9" />
<polygon points="861,1262.7 880.5,1256 887.1,1273.5 867.3,1279.6" fill="none" stroke="#777" stroke-width="0.9" />
<polygon points="783.5,1269.5 806.2,1273.5 803.5,1295 781.2,1291" fill="none" stroke="#777" stroke-width="0.9" />
<circle cx="874" cy="1293.8" r="4.8" fill="none" stroke="#888" stroke-width="1"/>
<polygon points="839.5,1320 862.5,1297.4 874,1309 851,1333" fill="none" stroke="#777" stroke-width="0.9" />
<polygon points="795,1314 826.4,1326 821,1346.2 788.3,1332" fill="none" stroke="#777" stroke-width="0.9" />
<polygon points="732,1352.5 750.5,1354 749.5,1387.9 731,1386" fill="none" stroke="#777" stroke-width="0.9" />
<polygon points="765,1384.3 802.6,1410 796,1423.6 758.6,1396" fill="none" stroke="#777" stroke-width="0.9" />
<polygon points="804,1429 813,1424.8 815.7,1432.5 807,1436.7" fill="none" stroke="#777" stroke-width="0.9" />
<polygon points="405.3,1052.9 534.8,1001.1 675.8,1033.7 673.9,1042.3 647,1150.7 639.4,1193.9 609.6,1202.5 485,1253.4 458.1,1183.3" fill="#fff" stroke="none" stroke-width="1" />
<polyline points="672.8,1042 646.4,1150.2" fill="none" stroke="#666" stroke-width="0.9" />
<polyline points="675,1042.6 648.6,1150.8" fill="none" stroke="#666" stroke-width="0.9" />
<path d="M670.6,1056 L670,1058.1 M664.2,1082.2 L663.6,1084.4 M657.8,1108.4 L657.2,1110.6 M651.4,1134.7 L650.8,1136.8" stroke="#555" stroke-width="3.4" fill="none"/>
<polyline points="609.2,1201.5 484.6,1252.4" fill="none" stroke="#666" stroke-width="0.9" />
<polyline points="610,1203.5 485.4,1254.4" fill="none" stroke="#666" stroke-width="0.9" />
<path d="M585.8,1212.2 L583.8,1213.1 M560.8,1222.4 L558.8,1223.3 M535.8,1232.6 L533.8,1233.5 M510.8,1242.8 L508.8,1243.7" stroke="#555" stroke-width="3.4" fill="none"/>
<polyline points="486,1253 459.1,1182.9" fill="none" stroke="#666" stroke-width="0.9" />
<polyline points="484,1253.8 457.1,1183.7" fill="none" stroke="#666" stroke-width="0.9" />
<path d="M476.8,1232 L476,1229.9 M467.1,1206.8 L466.3,1204.7" stroke="#555" stroke-width="3.4" fill="none"/>
<path d="M534.6,1000.6 L404.5,1052.9 L455.2,1183.7 L463.8,1180.3 L416.5,1058.1 L535.4,1010.4 L674.3,1042.5 L676.3,1033.5Z" fill="#848484" stroke="#2b2b2b" stroke-width="1.3" stroke-linejoin="miter" fill-rule="evenodd"/>
<path d="M508.4,1104.8 L512.6,1103.2 L485.5,1032.1 L481.3,1033.7Z" fill="#848484" stroke="#2b2b2b" stroke-width="1.3" stroke-linejoin="miter" fill-rule="evenodd"/>
<path d="M517.7,1122.7 L452.2,1147.1 L453.8,1151.5 L523.3,1125.7 L520.8,1115.4 L516.2,1116.6Z" fill="#848484" stroke="#2b2b2b" stroke-width="1.3" stroke-linejoin="miter" fill-rule="evenodd"/>
<path d="M548,1077 L632.5,1096.1 L633.5,1091.5 L553.8,1073.4 L566.4,1017.5 L561.8,1016.5Z" fill="#848484" stroke="#2b2b2b" stroke-width="1.3" stroke-linejoin="miter" fill-rule="evenodd"/>
<path d="M657.4,1101.9 L658.6,1097.1 L648.6,1094.6 L647.4,1099.4Z" fill="#848484" stroke="#2b2b2b" stroke-width="1.3" stroke-linejoin="miter" fill-rule="evenodd"/>
<path d="M590.5,1153.6 L616.4,1143.4 L621.5,1144.8 L621,1148.3 L596.5,1155.5 L612.2,1193.4 L632.6,1185.6 L638.6,1151 L638.1,1148.5 L648.8,1150.4 L640,1193 L610.4,1204.1Z" fill="#848484" stroke="#2b2b2b" stroke-width="1.3" fill-rule="evenodd"/>
<polyline points="463.6,1182.4 582.6,1133.4" fill="none" stroke="#b5b5b5" stroke-width="1" stroke-dasharray="14,8" />
<polyline points="582.6,1133.4 488.7,1248.5" fill="none" stroke="#b5b5b5" stroke-width="1" stroke-dasharray="14,8" />
<polyline points="463.6,1182.4 609.1,1202.2" fill="none" stroke="#b5b5b5" stroke-width="1" stroke-dasharray="14,8" />
<polygon points="439.8,1051.4 458.3,1044.8 474.2,1084.5 455.7,1091.1" fill="none" stroke="#777" stroke-width="0.9" />
<polygon points="441.1,1112.3 453,1107 464.9,1133.4 453,1138.7" fill="none" stroke="#777" stroke-width="0.9" />
<polygon points="457,1114 461,1112.5 464,1119.5 460,1121" fill="none" stroke="#777" stroke-width="0.9" />
<polygon points="564.1,1036.9 605.1,1044.8 601.1,1066 560.2,1058" fill="none" stroke="#777" stroke-width="0.9" />
<polygon points="628.9,1036.9 659.4,1042.2 656.7,1054.1 626.3,1047.5" fill="none" stroke="#777" stroke-width="0.9" />
<polygon points="638,1051 648,1053 646.5,1058 636.5,1056" fill="none" stroke="#777" stroke-width="0.9" />
<polygon points="585,1096 603,1098 600,1124.5 582,1122.5" fill="none" stroke="#777" stroke-width="0.9" />
<polygon points="574.5,1097 583.5,1098 582.5,1108 573.5,1107" fill="none" stroke="#777" stroke-width="0.9" />
<polygon points="575,1109 584,1110 583,1120 574,1119" fill="none" stroke="#777" stroke-width="0.9" />
<polygon points="604,1100 613,1101 612,1111 603,1110" fill="none" stroke="#777" stroke-width="0.9" />
<polygon points="604,1112 613,1113 612,1123 603,1122" fill="none" stroke="#777" stroke-width="0.9" />
<polygon points="488.7,1181.1 533.7,1166.5 537.7,1182.4 492.7,1198.3" fill="none" stroke="#777" stroke-width="0.9" />
<polyline points="503,1176 507,1193" fill="none" stroke="#888" stroke-width="0.8" />
<polyline points="518,1171 522,1188" fill="none" stroke="#888" stroke-width="0.8" />
<polygon points="550.9,1178.4 564.1,1163.9 578.7,1173.1 566.8,1187.7" fill="none" stroke="#777" stroke-width="0.9" />
<polyline points="499,1063 518,1057" fill="none" stroke="#333" stroke-width="0.9" />
<polyline points="500.4,1067.3 519.4,1061.3" fill="none" stroke="#333" stroke-width="0.9" />
<polyline points="501.9,1071.6 520.9,1065.6" fill="none" stroke="#333" stroke-width="0.9" />
<polyline points="503.3,1075.9 522.3,1069.9" fill="none" stroke="#333" stroke-width="0.9" />
<polyline points="504.7,1080.1 523.7,1074.1" fill="none" stroke="#333" stroke-width="0.9" />
<polyline points="506.1,1084.4 525.1,1078.4" fill="none" stroke="#333" stroke-width="0.9" />
<polyline points="507.6,1088.7 526.6,1082.7" fill="none" stroke="#333" stroke-width="0.9" />
<polyline points="509,1093 528,1087" fill="none" stroke="#333" stroke-width="0.9" />
<polyline points="499,1063 509,1093" fill="none" stroke="#333" stroke-width="1.2" />
<polyline points="494,1035 516,1030" fill="none" stroke="#bbb" stroke-width="0.8" stroke-dasharray="3,2" />
<polyline points="494.7,1038.8 516.7,1033.8" fill="none" stroke="#bbb" stroke-width="0.8" stroke-dasharray="3,2" />
<polyline points="495.3,1042.7 517.3,1037.7" fill="none" stroke="#bbb" stroke-width="0.8" stroke-dasharray="3,2" />
<polyline points="496,1046.5 518,1041.5" fill="none" stroke="#bbb" stroke-width="0.8" stroke-dasharray="3,2" />
<polyline points="496.7,1050.3 518.7,1045.3" fill="none" stroke="#bbb" stroke-width="0.8" stroke-dasharray="3,2" />
<polyline points="497.3,1054.2 519.3,1049.2" fill="none" stroke="#bbb" stroke-width="0.8" stroke-dasharray="3,2" />
<polyline points="498,1058 520,1053" fill="none" stroke="#bbb" stroke-width="0.8" stroke-dasharray="3,2" />
<polyline points="533,1045 550,1049" fill="none" stroke="#bbb" stroke-width="0.8" stroke-dasharray="3,2" />
<polyline points="534.2,1049.2 551.2,1053.2" fill="none" stroke="#bbb" stroke-width="0.8" stroke-dasharray="3,2" />
<polyline points="535.3,1053.3 552.3,1057.3" fill="none" stroke="#bbb" stroke-width="0.8" stroke-dasharray="3,2" />
<polyline points="536.5,1057.5 553.5,1061.5" fill="none" stroke="#bbb" stroke-width="0.8" stroke-dasharray="3,2" />
<polyline points="537.7,1061.7 554.7,1065.7" fill="none" stroke="#bbb" stroke-width="0.8" stroke-dasharray="3,2" />
<polyline points="538.8,1065.8 555.8,1069.8" fill="none" stroke="#bbb" stroke-width="0.8" stroke-dasharray="3,2" />
<polyline points="540,1070 557,1074" fill="none" stroke="#bbb" stroke-width="0.8" stroke-dasharray="3,2" />
<path d="M509,1098.4 A20,20 0 0 0 500,1108.5 L518.5,1116" fill="none" stroke="#888" stroke-width="0.9"/>
<path d="M636.9,1095.3 A14.5,14.5 0 0 1 651.4,1081.9 L651.4,1096.4" fill="none" stroke="#888" stroke-width="0.9"/>
<path d="M636.7,1152.7 A16.9,16.9 0 0 1 618.2,1164.3 L620.6,1147.6" fill="none" stroke="#999" stroke-width="0.9"/>
<polyline points="621.5,1146 638,1149.5" fill="none" stroke="#777" stroke-width="0.8" />
<ellipse cx="621" cy="1182" rx="3.5" ry="5" fill="none" stroke="#999" stroke-width="0.9"/>
<polygon points="601,1161 607,1160 609,1170 603,1171" fill="none" stroke="#999" stroke-width="0.9" />
<polygon points="105.9,1165.7 168,1141.7 226.3,1117.6 366.1,1150 364.3,1158.3 347.6,1223.1 330,1308.3 300.4,1319.4 176.3,1369.4 147.6,1299 95.7,1169.4" fill="#fff" stroke="none" stroke-width="1" />
<polyline points="105.5,1166.2 167.7,1142.4" fill="none" stroke="#666" stroke-width="0.9" />
<polyline points="104.7,1164.2 166.9,1140.4" fill="none" stroke="#666" stroke-width="0.9" />
<path d="M122.6,1158.5 L124.6,1157.7 M147.8,1148.9 L149.8,1148.1" stroke="#555" stroke-width="3.4" fill="none"/>
<polyline points="363.3,1159.6 347.4,1221.7" fill="none" stroke="#666" stroke-width="0.9" />
<polyline points="365.5,1160.2 349.6,1222.3" fill="none" stroke="#666" stroke-width="0.9" />
<path d="M360.1,1176.8 L359.5,1178.9 M353.4,1203 L352.8,1205.1" stroke="#555" stroke-width="3.4" fill="none"/>
<polyline points="300,1318.4 175.9,1368.4" fill="none" stroke="#666" stroke-width="0.9" />
<polyline points="300.8,1320.4 176.7,1370.4" fill="none" stroke="#666" stroke-width="0.9" />
<path d="M276.9,1328.9 L274.9,1329.7 M251.9,1338.9 L249.9,1339.8 M226.8,1349 L224.8,1349.9 M201.8,1359.1 L199.8,1359.9" stroke="#555" stroke-width="3.4" fill="none"/>
<polyline points="177.3,1369 153,1297.6" fill="none" stroke="#666" stroke-width="0.9" />
<polyline points="175.3,1369.8 151,1298.4" fill="none" stroke="#666" stroke-width="0.9" />
<path d="M168.9,1347.5 L168.1,1345.4 M160.2,1322 L159.4,1319.9" stroke="#555" stroke-width="3.4" fill="none"/>
<polyline points="108,1173 168,1150" fill="none" stroke="#444" stroke-width="1.2" />
<path d="M226.7,1127.1 L364.9,1159.5 L367.1,1150.5 L225.9,1117.3 L167.2,1141.7 L170.8,1150.3Z" fill="#848484" stroke="#2b2b2b" stroke-width="1.3" stroke-linejoin="miter" fill-rule="evenodd"/>
<path d="M149,1300.2 L157.6,1296.8 L104.8,1166.3 L96.2,1169.7Z" fill="#848484" stroke="#2b2b2b" stroke-width="1.3" stroke-linejoin="miter" fill-rule="evenodd"/>
<path d="M322.4,1300.9 L298.9,1310 L302.1,1318 L329.6,1307.1 L348.6,1222.9 L340.4,1221.1Z" fill="#848484" stroke="#2b2b2b" stroke-width="1.3" stroke-linejoin="miter" fill-rule="evenodd"/>
<path d="M255.6,1194.7 L251,1196.5 L298.2,1316.9 L302.8,1315.1Z" fill="#848484" stroke="#2b2b2b" stroke-width="1.3" stroke-linejoin="miter" fill-rule="evenodd"/>
<path d="M201.2,1227.3 L138.7,1250.2 L140.3,1254.8 L207.4,1230.1 L173.5,1143.1 L169.1,1144.9Z" fill="#848484" stroke="#2b2b2b" stroke-width="1.3" stroke-linejoin="miter" fill-rule="evenodd"/>
<polygon points="252,1131.5 269.2,1135.5 254.6,1195.6 240.5,1193" fill="#848484" stroke="#2b2b2b" stroke-width="1.2" />
<polyline points="155.4,1296.1 271.8,1249.8" fill="none" stroke="#444" stroke-width="1.5" />
<path d="M303.8,1240 L303.2,1236 L272.8,1241.2 L273.4,1245.2Z" fill="#848484" stroke="#2b2b2b" stroke-width="1.3" stroke-linejoin="miter" fill-rule="evenodd"/>
<path d="M312,1261 L311,1257.2 L283.2,1265.1 L284.2,1268.9Z" fill="#848484" stroke="#2b2b2b" stroke-width="1.3" stroke-linejoin="miter" fill-rule="evenodd"/>
<polyline points="155.4,1296.1 299.6,1318.6" fill="none" stroke="#aaa" stroke-width="0.8" />
<polyline points="271.8,1249.8 176.6,1368.9" fill="none" stroke="#aaa" stroke-width="0.8" />
<polygon points="122.3,1177.1 139.5,1173.1 151.4,1207.5 134.2,1212.8" fill="none" stroke="#777" stroke-width="0.9" />
<polygon points="126,1181 137,1178.5 146,1204 135,1207" fill="none" stroke="#aaa" stroke-width="0.9" />
<polygon points="155.4,1165.2 167.3,1162.5 175.2,1191.6 163.3,1195.6" fill="none" stroke="#777" stroke-width="0.9" />
<polygon points="299.6,1146.7 337.9,1154.6 328.7,1202.2 287.7,1193" fill="none" stroke="#777" stroke-width="0.9" />
<polygon points="300,1148 316,1151 314,1157 298,1154" fill="none" stroke="#777" stroke-width="0.9" />
<polygon points="318,1152 335,1156 333,1162 316,1158" fill="none" stroke="#777" stroke-width="0.9" />
<polyline points="295,1163 335,1170" fill="none" stroke="#888" stroke-width="0.8" />
<polygon points="159.4,1249.8 172.6,1245.9 176.6,1260.4 163.3,1264.4" fill="none" stroke="#777" stroke-width="0.9" />
<polyline points="184,1163 198,1158" fill="none" stroke="#333" stroke-width="0.9" />
<polyline points="185.6,1167.1 199.6,1162.1" fill="none" stroke="#333" stroke-width="0.9" />
<polyline points="187.1,1171.2 201.1,1166.2" fill="none" stroke="#333" stroke-width="0.9" />
<polyline points="188.7,1175.3 202.7,1170.3" fill="none" stroke="#333" stroke-width="0.9" />
<polyline points="190.2,1179.4 204.2,1174.4" fill="none" stroke="#333" stroke-width="0.9" />
<polyline points="191.8,1183.6 205.8,1178.6" fill="none" stroke="#333" stroke-width="0.9" />
<polyline points="193.3,1187.7 207.3,1182.7" fill="none" stroke="#333" stroke-width="0.9" />
<polyline points="194.9,1191.8 208.9,1186.8" fill="none" stroke="#333" stroke-width="0.9" />
<polyline points="196.4,1195.9 210.4,1190.9" fill="none" stroke="#333" stroke-width="0.9" />
<polyline points="198,1200 212,1195" fill="none" stroke="#333" stroke-width="0.9" />
<polyline points="219,1141 234,1142" fill="none" stroke="#aaa" stroke-width="0.8" />
<polyline points="219.6,1147.4 234.6,1148.4" fill="none" stroke="#aaa" stroke-width="0.8" />
<polyline points="220.2,1153.8 235.2,1154.8" fill="none" stroke="#aaa" stroke-width="0.8" />
<polyline points="220.9,1160.1 235.9,1161.1" fill="none" stroke="#aaa" stroke-width="0.8" />
<polyline points="221.5,1166.5 236.5,1167.5" fill="none" stroke="#aaa" stroke-width="0.8" />
<polyline points="222.1,1172.9 237.1,1173.9" fill="none" stroke="#aaa" stroke-width="0.8" />
<polyline points="222.8,1179.2 237.8,1180.2" fill="none" stroke="#aaa" stroke-width="0.8" />
<polyline points="223.4,1185.6 238.4,1186.6" fill="none" stroke="#aaa" stroke-width="0.8" />
<polyline points="224,1192 239,1193" fill="none" stroke="#aaa" stroke-width="0.8" />
<polyline points="130,1226 157,1218" fill="none" stroke="#555" stroke-width="1" />
<circle cx="143" cy="1236.6" r="2.5" fill="none" stroke="#888" stroke-width="1"/>
<path d="M179.2,1227.7 A16,16 0 0 1 195,1214 L195,1230" fill="none" stroke="#999" stroke-width="0.9"/>
<ellipse cx="290" cy="1255" rx="5" ry="3.5" fill="none" stroke="#999" stroke-width="0.9"/>
<circle cx="302.2" cy="1285.6" r="2.5" fill="none" stroke="#888" stroke-width="1"/>
<polygon points="327,1234 335,1232 337,1248 329,1250" fill="none" stroke="#999" stroke-width="0.9" />
<path d="M269.8,1220.8 A19.4,19.4 0 0 1 292,1236 L273,1240" fill="none" stroke="#999" stroke-width="0.9"/>
<path d="M1847.2,112.8 Q1990,60 2136.3,17.6 Q2240,-8 2335.1,9" fill="none" stroke="#b0b0b0" stroke-width="1" />
<path d="M1847.2,112.8 Q1960,230 2076.8,283" fill="none" stroke="#b0b0b0" stroke-width="1" />
<polyline points="2136.3,17.6 2076.8,283" fill="none" stroke="#b0b0b0" stroke-width="1" />
<polyline points="2136.3,17.6 2217.5,131.2" fill="none" stroke="#b0b0b0" stroke-width="1" />
<polyline points="2335.1,9 2076.8,283" fill="none" stroke="#b0b0b0" stroke-width="1" />
<polyline points="2217.5,131.2 2255.2,331.3" fill="none" stroke="#b0b0b0" stroke-width="1" />
<polyline points="2076.8,283 2255.2,331.3" fill="none" stroke="#b0b0b0" stroke-width="1" />
<polyline points="2076.8,283 2173.2,407.2" fill="none" stroke="#b0b0b0" stroke-width="1" />
<polyline points="2255.2,331.3 2173.2,407.2" fill="none" stroke="#b0b0b0" stroke-width="1" />
<polyline points="2173.2,407.2 2266.2,485.9" fill="none" stroke="#b0b0b0" stroke-width="1" />
<polyline points="2173.2,407.2 2217.5,583.1" fill="none" stroke="#b0b0b0" stroke-width="1" />
<path d="M2335.1,9 Q2300,180 2255.2,331.3" fill="none" stroke="#b0b0b0" stroke-width="1" />
<path d="M2255.2,331.3 Q2272,400 2266.2,485.9" fill="none" stroke="#b0b0b0" stroke-width="1" />
<path d="M2266.2,485.9 Q2255,560 2217.5,583.1" fill="none" stroke="#b0b0b0" stroke-width="1" />
<path d="M2173.2,407.2 Q2135,460 2095.3,500.3" fill="none" stroke="#b0b0b0" stroke-width="1" />
<path d="M2095.3,500.3 Q2150,580 2217.5,583.1" fill="none" stroke="#b0b0b0" stroke-width="1" />
<polygon points="1992.7,366.2 2049.3,343.2 2110.8,357.6 2095.3,427.3 2026.8,453.9" fill="none" stroke="#b0b0b0" stroke-width="1" />
<polygon points="2396.7,7.4 2457.3,43.1 2395.4,152.5 2341.3,162.8 2331,112.8" fill="none" stroke="#b0b0b0" stroke-width="1" />
<defs><linearGradient id="pg" x1="0" y1="0" x2="1" y2="0"><stop offset="0" stop-color="#ededed"/><stop offset="0.5" stop-color="#f1f1f1"/><stop offset="1" stop-color="#eeeeee"/></linearGradient><filter id="blur2"><feGaussianBlur stdDeviation="3"/></filter><filter id="blur1"><feGaussianBlur stdDeviation="0.6"/></filter></defs>
<rect x="1813" y="706" width="687" height="299" fill="url(#pg)"/>
<g filter="url(#blur2)">
<polygon points="2006.8,753.3 2017,753.3 2012.9,966.4 1994.5,993.1 1986.3,993.1 2002.7,966.4" fill="#d6d6d6" stroke="none" stroke-width="1" />
<polygon points="2204.5,741 2214.7,761.5 2214.7,925.5 2204.5,935.7" fill="#dcdcdc" stroke="none" stroke-width="1" />
<polygon points="2465.5,712.3 2475.8,712.3 2471.7,966.6 2461.4,976.8" fill="#dedede" stroke="none" stroke-width="1" />
</g>
<polygon points="1840.7,725.6 2015,750.2 2010.9,864 2006.8,966.4 1990.4,991 1912.5,991 1836.6,964.4 1842.8,843.5" fill="#f6f6f6" stroke="none" stroke-width="1" />
<polygon points="2032.3,712.3 2216.8,708.2 2220.9,761.5 2212.7,954.2 2028.2,956.2 2034.3,843.5" fill="#f7f7f7" stroke="none" stroke-width="1" />
<polygon points="2240,712.3 2473.8,708.2 2469.6,843.5 2467.6,991.2 2291.3,974.8 2272.8,864" fill="#f4f4f4" stroke="none" stroke-width="1" />
<polygon points="2301.5,716.4 2436.8,712.3 2432.7,952.2 2305.6,946.1" fill="#f0f0f0" stroke="none" stroke-width="1" />
<polygon points="1912.5,712.3 1956.5,718.4 1951.4,751.2 1908.4,747.1" fill="#e2e2e2" stroke="none" stroke-width="1" />
<polygon points="2048.7,708.2 2065.1,708.2 2064.1,734.8 2050.7,734.8" fill="#e2e2e2" stroke="none" stroke-width="1" />
<polygon points="2151.2,712.3 2200.4,708.2 2200.4,722.5 2175.8,732.8 2153.2,724.6" fill="#e2e2e2" stroke="none" stroke-width="1" />
<polygon points="2026.1,921.4 2046.6,921.4 2042.5,956.2 2024.1,954.2" fill="#e2e2e2" stroke="none" stroke-width="1" />
<polygon points="2192.2,939.8 2216.8,931.6 2225,948 2196.3,958.2" fill="#e2e2e2" stroke="none" stroke-width="1" />
<polygon points="2430.7,978.9 2461.4,972.7 2463.5,991.2 2434.8,997.3" fill="#e2e2e2" stroke="none" stroke-width="1" />
<polygon points="2371.2,708.2 2404,706.2 2402,718.5 2381.5,722.6" fill="#e2e2e2" stroke="none" stroke-width="1" />
<polyline points="1863.3,742 1978.1,766.6 1982.2,773.8" fill="none" stroke="#1c1c1c" stroke-width="2.6" />
<polyline points="1865.3,740 1945.3,761.5 1978.1,770.7 1996.5,783" fill="none" stroke="#1c1c1c" stroke-width="2.2" />
<polyline points="1877.6,738.9 1875.6,748.2" fill="none" stroke="#1c1c1c" stroke-width="2.2" />
<polyline points="1864.3,743 1856.1,843.5 1838.7,938.8 1883.8,966.4" fill="none" stroke="#1c1c1c" stroke-width="2.8" />
<polyline points="1910.4,962.3 1982.2,963.4" fill="none" stroke="#1c1c1c" stroke-width="2.4" />
<polyline points="1883.8,966.4 1916.6,984.9 1974,972.6" fill="none" stroke="#666" stroke-width="2" />
<polygon points="1887.9,968.5 1974,970.5 1969.9,978.7 1916.6,985.9" fill="#909090" stroke="none" stroke-width="1" />
<polygon points="1855.1,964.4 1887.9,968.5 1916.6,985.9 1990.4,991 1933,995.1 1861.2,976.7" fill="#dedede" stroke="none" stroke-width="1" />
<polyline points="1848.9,941.9 1854.1,954.2" fill="none" stroke="#1c1c1c" stroke-width="2.2" />
<polyline points="1879.7,954.2 1874.6,968.5" fill="none" stroke="#1c1c1c" stroke-width="2.2" />
<polyline points="1995.5,784 1967.8,905" fill="none" stroke="#1c1c1c" stroke-width="1.8" />
<polyline points="1990.4,782 1961.7,894.7" fill="none" stroke="#1c1c1c" stroke-width="1.8" />
<polyline points="1985.2,781 1956.5,884.5" fill="none" stroke="#1c1c1c" stroke-width="1.8" />
<polyline points="1980.1,779.9 1951.4,843.5" fill="none" stroke="#1c1c1c" stroke-width="1.8" />
<polyline points="1965.8,779.9 1953.5,831.2" fill="none" stroke="#1c1c1c" stroke-width="1.8" />
<polyline points="1960.6,778.9 1945.3,843.5" fill="none" stroke="#1c1c1c" stroke-width="1.8" />
<polyline points="1953.5,905 1971.9,960.3" fill="none" stroke="#1c1c1c" stroke-width="1.8" />
<polyline points="1961.7,900.9 1980.1,960.3" fill="none" stroke="#1c1c1c" stroke-width="1.8" />
<polyline points="1974,919.3 1983.2,962.3" fill="none" stroke="#1c1c1c" stroke-width="1.8" />
<polyline points="1967.8,905 1976,960.3" fill="none" stroke="#1c1c1c" stroke-width="1.8" />
<polygon points="1941.2,833.2 1971.9,841.4 1965.8,864 1953.5,905 1933,890.6 1928.9,870.1" fill="#262626" stroke="none" stroke-width="1" />
<polyline points="1953.5,843.5 1945.3,884.5" fill="none" stroke="#1c1c1c" stroke-width="1.6" />
<polyline points="1956.3,843.5 1948.1,884.5" fill="none" stroke="#1c1c1c" stroke-width="1.6" />
<polyline points="1959.2,843.5 1951,884.5" fill="none" stroke="#1c1c1c" stroke-width="1.6" />
<polyline points="1962.1,843.5 1953.9,884.5" fill="none" stroke="#1c1c1c" stroke-width="1.6" />
<polyline points="1964.9,843.5 1956.8,884.5" fill="none" stroke="#1c1c1c" stroke-width="1.6" />
<polyline points="1967.8,843.5 1959.6,884.5" fill="none" stroke="#1c1c1c" stroke-width="1.6" />
<polyline points="1970.7,843.5 1962.5,884.5" fill="none" stroke="#1c1c1c" stroke-width="1.6" />
<polyline points="1929.9,832.2 1953.5,833.2" fill="none" stroke="#1c1c1c" stroke-width="2" />
<polyline points="1943.2,820.9 1953.5,823" fill="none" stroke="#1c1c1c" stroke-width="2" />
<polygon points="1911.5,782 1928.9,785.1 1906.3,857.8 1888.9,851.7" fill="none" stroke="#1c1c1c" stroke-width="2.6" />
<polygon points="1896.1,887.5 1921.7,880.4 1942.2,939.8 1914.5,949" fill="none" stroke="#1c1c1c" stroke-width="2.4" />
<polyline points="1897.1,896.8 1922.7,889.6" fill="none" stroke="#1c1c1c" stroke-width="2.2" />
<polyline points="1900.2,896.8 1916.6,948" fill="none" stroke="#1c1c1c" stroke-width="2.2" />
<polyline points="1908.4,894.7 1924.8,946" fill="none" stroke="#1c1c1c" stroke-width="2.2" />
<polyline points="1917.6,891.6 1933,942.9" fill="none" stroke="#1c1c1c" stroke-width="2.2" />
<polyline points="2079.4,721.5 2181.9,751.2" fill="none" stroke="#a8a8a8" stroke-width="9" />
<polyline points="2081.5,722.5 2057.9,906" fill="none" stroke="#a8a8a8" stroke-width="9" />
<polyline points="2057.9,906 2095.8,935.7 2181.9,931.6" fill="none" stroke="#a8a8a8" stroke-width="9" />
<polyline points="2075.3,716.4 2184,747.1 2177.8,786.1" fill="none" stroke="#1c1c1c" stroke-width="3" />
<polyline points="2075.3,716.4 2046.6,908 2093.8,942.9 2186,937.8 2153.2,855.8" fill="none" stroke="#1c1c1c" stroke-width="3" />
<polygon points="2151.2,798.4 2171.7,791.2 2178.8,782 2175.8,796.3 2163.5,843.5 2153.2,855.8 2140.9,831.2 2145,810.7" fill="#1e1e1e" stroke="none" stroke-width="1" />
<polyline points="2175.8,747.1 2188.1,753.3" fill="none" stroke="#1c1c1c" stroke-width="2" />
<polyline points="2175.8,761.5 2186,761.5" fill="none" stroke="#1c1c1c" stroke-width="2" />
<polyline points="2163.5,777.9 2188.1,777.9" fill="none" stroke="#1c1c1c" stroke-width="2" />
<polyline points="2167.6,773.8 2163.5,777.9 2168.6,782" fill="none" stroke="#1c1c1c" stroke-width="2" />
<polyline points="2159.4,749.2 2158.3,763.5" fill="none" stroke="#555" stroke-width="1.5" />
<polygon points="2119.4,758.4 2136.8,762.5 2117.4,835.3 2098.9,827.1" fill="none" stroke="#1c1c1c" stroke-width="2.6" />
<polygon points="2098.9,867 2130.7,855.8 2134.8,876.3 2102,885.5" fill="none" stroke="#1c1c1c" stroke-width="2.6" />
<polyline points="2104,884.5 2116.3,926.5 2126.6,924.4 2114.7,882.8" fill="none" stroke="#1c1c1c" stroke-width="2.6" />
<polyline points="2124.5,880.4 2143,917.3 2151.2,914.2 2134,876.7" fill="none" stroke="#1c1c1c" stroke-width="2.6" />
<polyline points="2101,875.2 2132.7,866.4" fill="none" stroke="#1c1c1c" stroke-width="2.2" />
<polyline points="2335.3,726.7 2425.6,763.6 2398.9,820 2414.3,944 2340.5,948.1 2293.3,907.1" fill="none" stroke="#b4b4b4" stroke-width="8" />
<polygon points="2333.3,723.6 2427.6,761.5 2397.9,818.9 2417.4,946.1 2338.4,951.2 2290.2,909.1 2301.5,864" fill="none" stroke="#5a5a5a" stroke-width="1.3" />
<polyline points="2333.3,723.6 2276.9,841.5" fill="none" stroke="#6a6a6a" stroke-width="1.1" />
<polyline points="2330.2,726.7 2281,843.5" fill="none" stroke="#6a6a6a" stroke-width="1.1" />
<polyline points="2334.3,724.6 2311.8,821" fill="none" stroke="#6a6a6a" stroke-width="1.1" />
<polyline points="2328.2,724.6 2289.2,814.8" fill="none" stroke="#6a6a6a" stroke-width="1.1" />
<polyline points="2332.3,722.6 2301.5,864" fill="none" stroke="#6a6a6a" stroke-width="1.1" />
<polyline points="2317.9,722.6 2336.4,722.6" fill="none" stroke="#6a6a6a" stroke-width="1.1" />
<polyline points="2279,804.6 2324.1,841.5" fill="none" stroke="#6a6a6a" stroke-width="1.1" />
<polyline points="2289.2,800.5 2309.7,806.6" fill="none" stroke="#6a6a6a" stroke-width="1.1" />
<polygon points="2287.2,811.7 2309.7,822 2301.5,857.9 2277.9,841.5" fill="#5a5a5a" stroke="#444" stroke-width="1.2" />
<polygon points="2371.2,769.7 2385.6,772.8 2363,831.2 2350.7,826.1" fill="none" stroke="#777" stroke-width="1.2" />
<polygon points="2356.9,765.6 2365.1,767.3 2363.4,774.8 2355.2,773.2" fill="none" stroke="#777" stroke-width="1.1" />
<polygon points="2350.7,784.1 2358.9,785.7 2357.3,793.3 2349.1,791.7" fill="none" stroke="#777" stroke-width="1.1" />
<polygon points="2344.6,802.5 2352.8,804.2 2351.1,811.7 2342.9,810.1" fill="none" stroke="#777" stroke-width="1.1" />
<polygon points="2338.4,817.9 2346.6,819.5 2345,827.1 2336.8,825.5" fill="none" stroke="#777" stroke-width="1.1" />
<polygon points="2385.6,782 2393.8,783.7 2392.1,791.2 2383.9,789.6" fill="none" stroke="#777" stroke-width="1.1" />
<polygon points="2381.5,798.4 2389.7,800.1 2388,807.6 2379.8,806" fill="none" stroke="#777" stroke-width="1.1" />
<polygon points="2376.4,811.7 2384.6,813.4 2382.9,821 2374.7,819.3" fill="none" stroke="#777" stroke-width="1.1" />
<polygon points="2369.2,827.1 2377.4,828.8 2375.7,836.4 2367.5,834.7" fill="none" stroke="#777" stroke-width="1.1" />
<polygon points="2341.5,874.3 2378.4,873.3 2379.4,883.5 2342.5,885.6" fill="none" stroke="#777" stroke-width="1.2" />
<polygon points="2342.5,895.8 2349.7,894.8 2351.7,927.6 2345.6,928" fill="none" stroke="#777" stroke-width="1.2" />
<polygon points="2370.2,891.7 2378.4,891.1 2381.5,924.5 2373.3,924.5" fill="none" stroke="#777" stroke-width="1.2" />
<circle cx="2339.4" cy="900.9" r="1.3" fill="#777" stroke="#666" stroke-width="1"/>
<circle cx="2339.4" cy="908.1" r="1.3" fill="#777" stroke="#666" stroke-width="1"/>
<circle cx="2339.4" cy="915.3" r="1.3" fill="#777" stroke="#666" stroke-width="1"/>
<circle cx="2339.4" cy="922.5" r="1.3" fill="#777" stroke="#666" stroke-width="1"/>
<polyline points="2436.8,767.7 2411.2,823 2428.6,946.1" fill="none" stroke="#999" stroke-width="1" />
<polyline points="2399.9,821 2414.3,821" fill="none" stroke="#999" stroke-width="1" />
<polyline points="2336.4,831.2 2338.4,946.1" fill="none" stroke="#bbb" stroke-width="0.9" />
<polyline points="2346.6,722.6 2348.7,730.8" fill="none" stroke="#555" stroke-width="1.3" />
<polyline points="2377.4,739 2377.4,747.2" fill="none" stroke="#555" stroke-width="1.3" />
<polyline points="2420.4,769.7 2424.5,771.8" fill="none" stroke="#555" stroke-width="1.3" />
<polyline points="2412.2,786.1 2418.4,788.2" fill="none" stroke="#555" stroke-width="1.3" />
<polyline points="2408.1,907.1 2416.3,907.1" fill="none" stroke="#555" stroke-width="1.3" />
<polyline points="2410.2,926.6 2418.4,926.6" fill="none" stroke="#555" stroke-width="1.3" />
<polyline points="2383.5,940.9 2384.6,949.1" fill="none" stroke="#555" stroke-width="1.3" />
<polyline points="2350.7,945 2351.7,953.2" fill="none" stroke="#555" stroke-width="1.3" />
<polyline points="2324.1,938.9 2327.1,945" fill="none" stroke="#555" stroke-width="1.3" />
<polyline points="2300.5,919.4 2303.6,923.5" fill="none" stroke="#555" stroke-width="1.3" />
<polyline points="1944.8,1042.8 1818.3,1278.3" fill="none" stroke="#a0a0a0" stroke-width="1.2" />
<polyline points="1954,1070.6 2021.4,1273.7" fill="none" stroke="#a0a0a0" stroke-width="1.2" />
<polyline points="1985.4,1077.6 1883.3,1283" fill="none" stroke="#a0a0a0" stroke-width="1.2" />
<polyline points="2006.3,1057.8 2063.1,1222.6" fill="none" stroke="#a0a0a0" stroke-width="1.2" />
<polyline points="1867,1101.5 2073.6,1101.5" fill="none" stroke="#a0a0a0" stroke-width="1.2" />
<polyline points="1824,1181.3 2103.7,1168.8" fill="none" stroke="#a0a0a0" stroke-width="1.2" />
<polyline points="1914.6,1097.3 1869.3,1178.5" fill="none" stroke="#2e2e2e" stroke-width="2" />
<polyline points="1907.6,1102.4 2023.7,1103.8" fill="none" stroke="#2e2e2e" stroke-width="2" />
<polyline points="2017.9,1095 2037.6,1158.8" fill="none" stroke="#2e2e2e" stroke-width="2" />
<polyline points="1861,1173.4 1869.3,1178.5 1921.6,1202.9 1951.7,1215.7 1984.2,1194.8 2046.9,1146" fill="none" stroke="#2e2e2e" stroke-width="2" />
<polyline points="1916,1210 1928,1195" fill="none" stroke="#2e2e2e" stroke-width="2" />
<polyline points="1948,1222 1958,1212" fill="none" stroke="#2e2e2e" stroke-width="2" />
<polygon points="1930.8,1175 1977.3,1168.1 1984.2,1193.6 1951.7,1215.7 1921.6,1202.9" fill="#8a8a8a" stroke="#2e2e2e" stroke-width="1.5" />
<polyline points="1926,1176 1927.3,1205 1928.6,1179.7 1929.9,1205 1931.2,1175.4 1932.5,1205 1933.8,1179.1 1935.1,1205 1936.4,1174.8 1937.7,1205 1939,1178.5 1940.3,1205 1941.6,1174.2 1942.9,1205 1944.2,1177.9 1945.5,1205 1946.8,1173.6 1948.1,1205 1949.4,1177.3 1950.7,1211 1952,1173 1953.3,1211 1954.6,1176.7 1955.9,1211 1957.2,1172.4 1958.5,1211 1959.8,1176.1 1961.1,1211 1962.4,1171.8 1963.7,1205 1965,1175.5 1966.3,1202.8 1967.6,1171.2 1968.9,1200.6 1970.2,1174.9 1971.5,1198.4 1972.8,1170.6 1974.1,1196.2 1975.4,1174.3 1976.7,1194 1978,1170 1979.3,1191.8 1980.6,1173.7 1981.9,1189.6" fill="none" stroke="#333" stroke-width="1.1" />
<polyline points="2211.7,1098.5 2303.3,1094.5" fill="none" stroke="#2e2e2e" stroke-width="2" />
<polyline points="2302,1085 2320.7,1150.7" fill="none" stroke="#2e2e2e" stroke-width="2" />
<polyline points="2320.7,1150.7 2205.9,1211" fill="none" stroke="#2e2e2e" stroke-width="2" />
<polyline points="2205.9,1211 2167.5,1158.8 2213.5,1095.5" fill="none" stroke="#2e2e2e" stroke-width="2" />
<polygon points="2211.7,1168.1 2246.5,1160 2250,1184.3 2205.9,1206.4 2194.3,1193.6" fill="#888" stroke="#2e2e2e" stroke-width="1.5" />
<polyline points="2200,1168 2197,1200 2202.6,1167.6 2199.6,1199 2205.2,1167.2 2202.2,1198 2207.8,1166.8 2204.8,1197 2210.4,1166.4 2207.4,1196 2213,1166 2210,1195 2215.6,1165.6 2212.6,1194 2218.2,1165.2 2215.2,1193 2220.8,1164.8 2217.8,1192 2223.4,1164.4 2220.4,1191 2226,1164 2223,1190 2228.6,1163.6 2225.6,1189 2231.2,1163.2 2228.2,1188 2233.8,1162.8 2230.8,1187 2236.4,1162.4 2233.4,1186 2239,1162 2236,1185 2241.6,1161.6 2238.6,1184 2244.2,1161.2 2241.2,1183 2246.8,1160.8 2243.8,1182 2249.4,1160.4 2246.4,1181" fill="none" stroke="#333" stroke-width="1.1" />
</svg>
<svg class="lay" width="2500" height="1567" viewBox="0 0 2500 1567">
<text x="388.7" y="516" font-size="19" fill="#151515" text-anchor="middle" dominant-baseline="central">7</text>
<text x="336.5" y="626" font-size="19" fill="#151515" text-anchor="middle" dominant-baseline="central">5</text>
<text x="645.5" y="612" font-size="19" fill="#151515" text-anchor="middle" dominant-baseline="central">5</text>
<text x="609.2" y="747" font-size="19" fill="#151515" text-anchor="middle" dominant-baseline="central">5</text>
<text x="917" y="320" font-size="19" fill="#151515" text-anchor="middle" dominant-baseline="central">2</text>
<text x="1078" y="324" font-size="19" fill="#151515" text-anchor="middle" dominant-baseline="central">5</text>
<text x="916.7" y="569.5" font-size="19" fill="#151515" text-anchor="middle" dominant-baseline="central">6</text>
<text x="1307" y="344.4" font-size="19" fill="#151515" text-anchor="middle" dominant-baseline="central">8</text>
<text x="1376.1" y="380.8" font-size="19" fill="#151515" text-anchor="middle" dominant-baseline="central">8</text>
<text x="1251" y="471.3" font-size="19" fill="#151515" text-anchor="middle" dominant-baseline="central">2</text>
<text x="1240.4" y="530.4" font-size="19" fill="#151515" text-anchor="middle" dominant-baseline="central">3</text>
<text x="1575.7" y="503.5" font-size="19" fill="#151515" text-anchor="middle" dominant-baseline="central">9</text>
<text x="769" y="892" font-size="19" fill="#151515" text-anchor="middle" dominant-baseline="central">5</text>
<text x="884.7" y="907" font-size="19" fill="#151515" text-anchor="middle" dominant-baseline="central">4</text>
<text x="933.7" y="1054" font-size="19" fill="#151515" text-anchor="middle" dominant-baseline="central">3</text>
<text x="830.5" y="1288" font-size="19" fill="#151515" text-anchor="middle" dominant-baseline="central">2</text>
<text x="911" y="1407" font-size="19" fill="#151515" text-anchor="middle" dominant-baseline="central">1</text>
<text x="478.2" y="1103" font-size="19" fill="#151515" text-anchor="middle" dominant-baseline="central">8</text>
<text x="623.1" y="1067.3" font-size="19" fill="#151515" text-anchor="middle" dominant-baseline="central">8</text>
<text x="593.3" y="1110.4" font-size="19" fill="#151515" text-anchor="middle" dominant-baseline="central">3</text>
<text x="542.5" y="1205.4" font-size="19" fill="#151515" text-anchor="middle" dominant-baseline="central">2</text>
<text x="304.1" y="1220.4" font-size="19" fill="#151515" text-anchor="middle" dominant-baseline="central">9</text>
</svg>
<div class="legend">1 Main Entrance<br>2 Living<br>3 Dinning<br>4 Kitchen<br>5 Storage<br>6 Fire Place<br>7 Workshop<br>8 Kids&#8217; Bed Room<br>9 Master Bed Room</div>
<div class="caption">How we made core systems in each masses.</div>
</body></html>
